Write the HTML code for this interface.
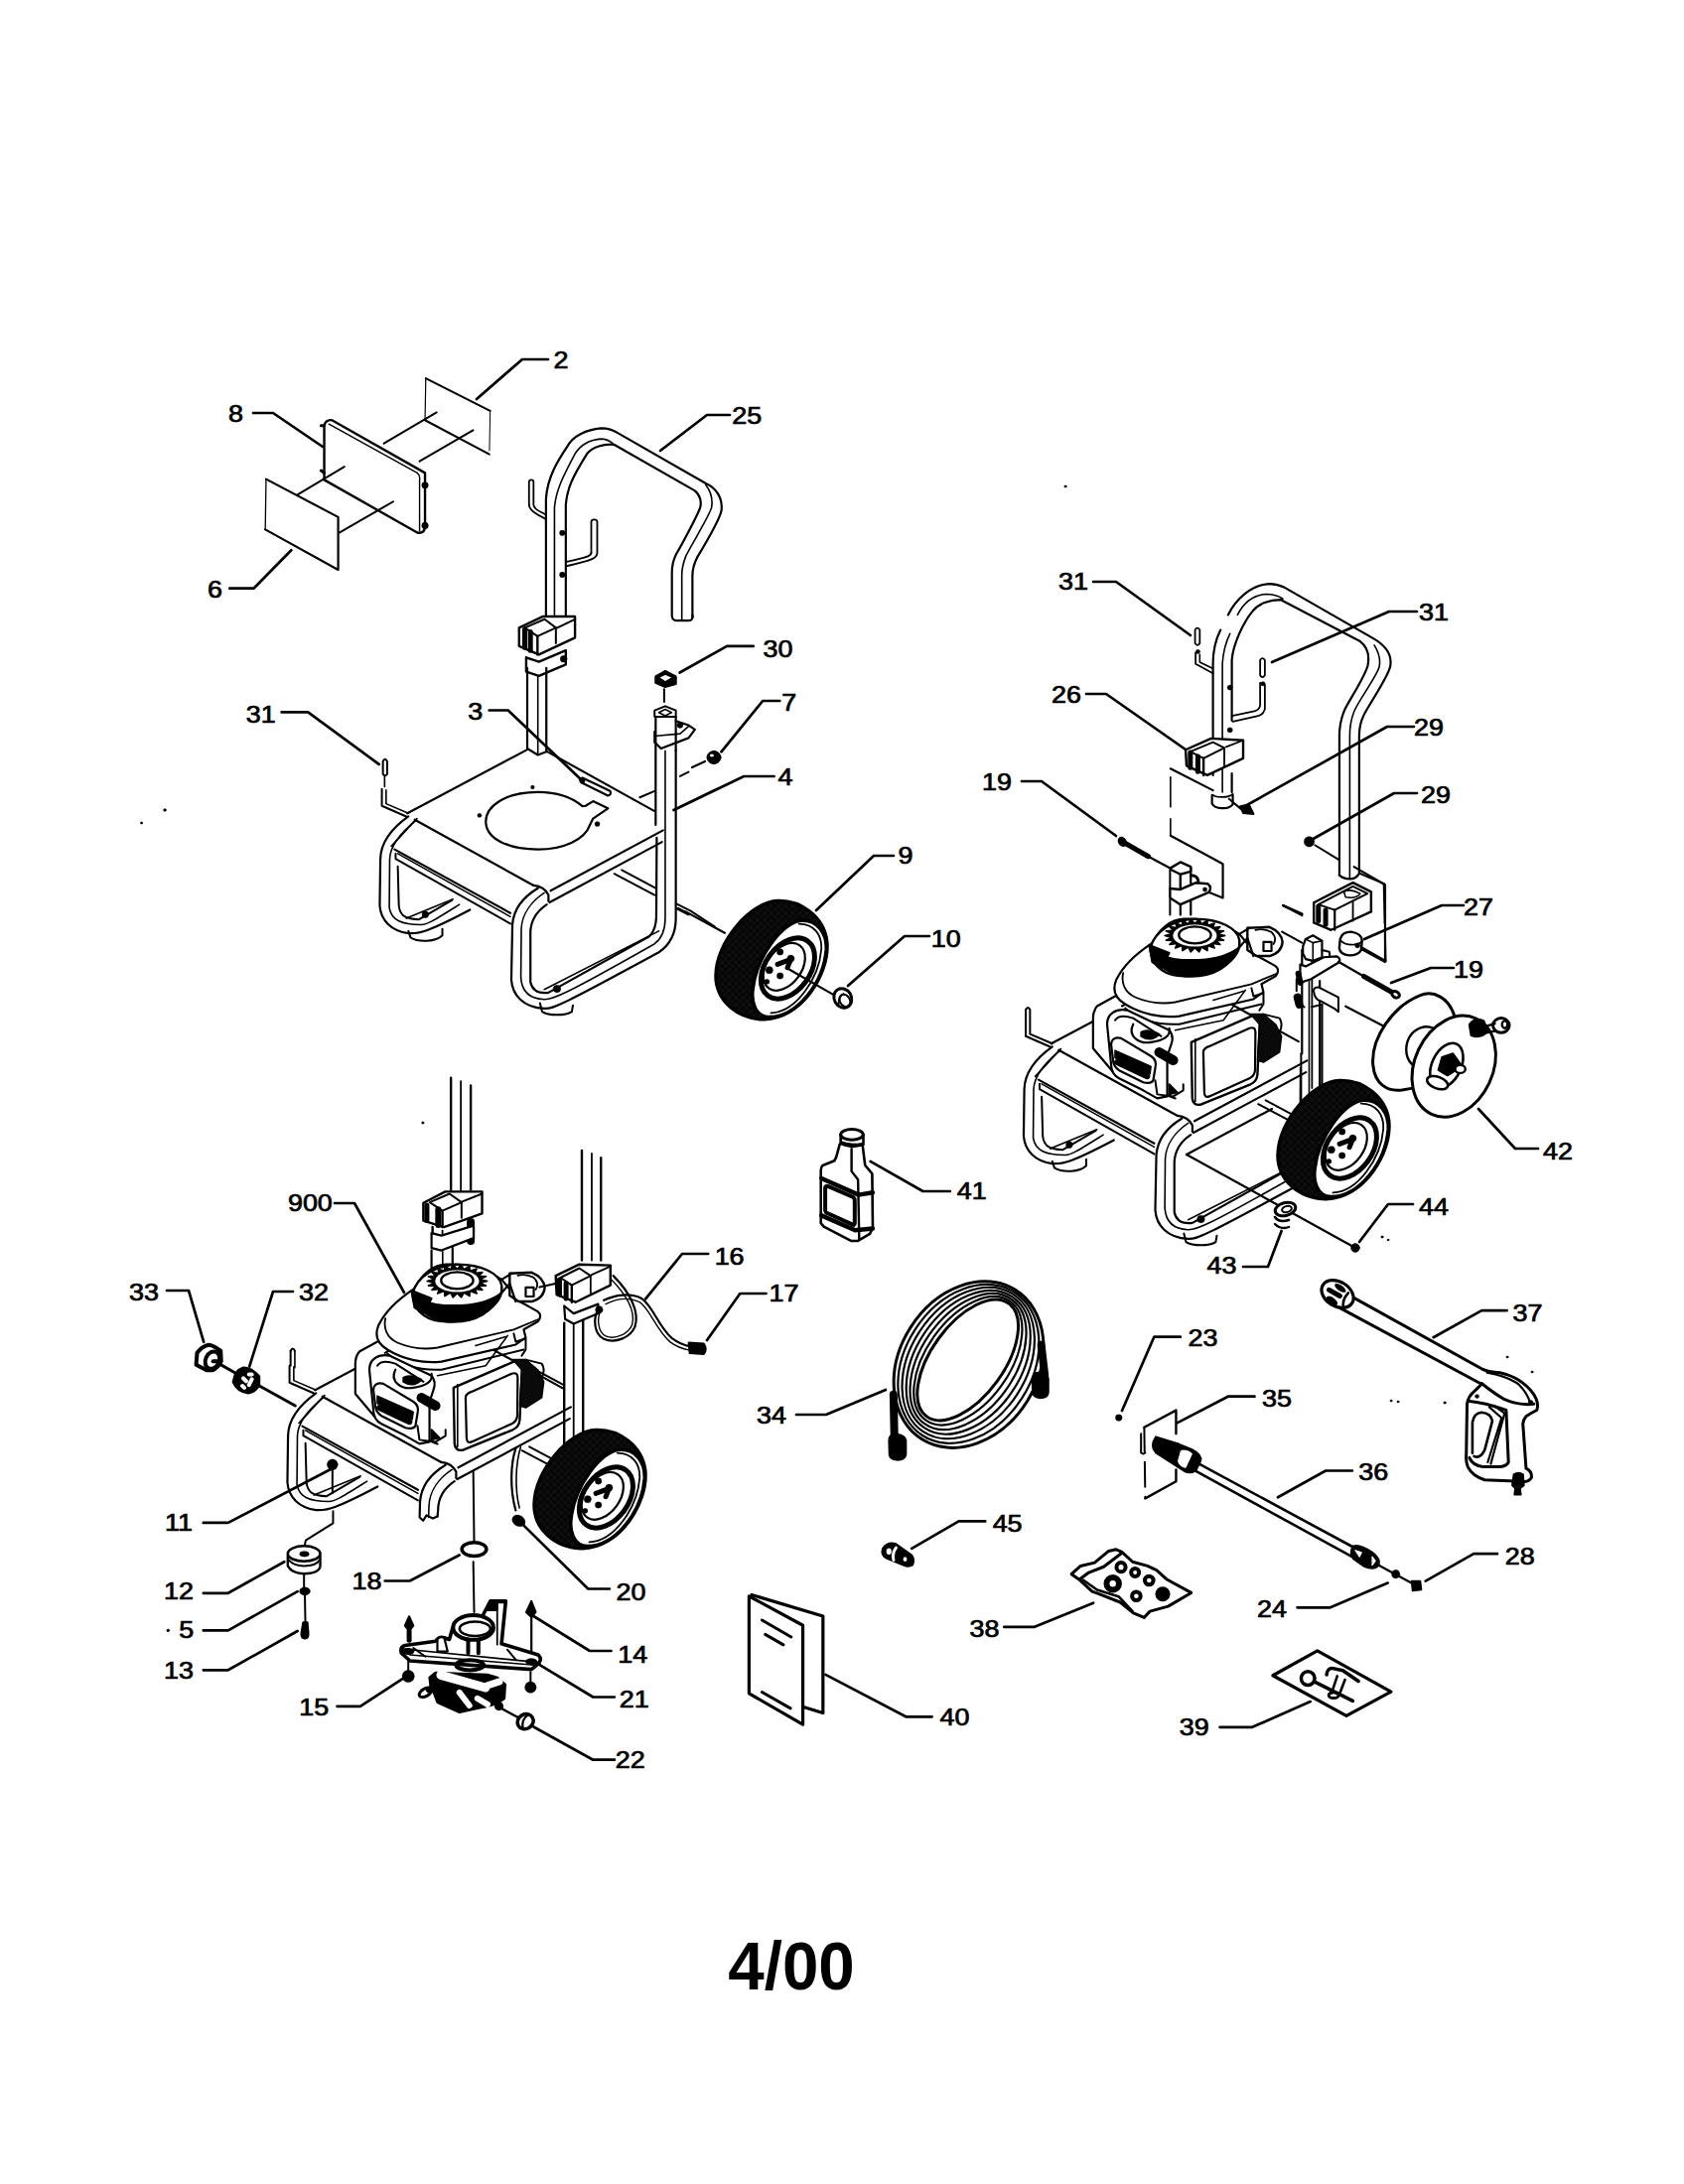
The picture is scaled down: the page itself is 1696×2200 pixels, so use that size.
<!DOCTYPE html>
<html><head><meta charset="utf-8"><style>
html,body{margin:0;padding:0;background:#fff;}
svg{display:block;}
text{font-family:"Liberation Sans",sans-serif;fill:#000;text-anchor:middle;stroke:#000;stroke-width:0.7px;}
path,circle,ellipse,rect,line,polyline,polygon{stroke:#000;stroke-linecap:round;stroke-linejoin:round;}
</style></head><body>
<svg width="1696" height="2200" viewBox="0 0 1696 2200">
<text transform="translate(565 371.2) scale(1.17 1)" x="0" y="0" font-size="23">2</text>
<text transform="translate(237.4 424.8) scale(1.17 1)" x="0" y="0" font-size="23">8</text>
<text transform="translate(216.5 601.7) scale(1.17 1)" x="0" y="0" font-size="23">6</text>
<text transform="translate(752.2 426.6) scale(1.17 1)" x="0" y="0" font-size="23">25</text>
<text transform="translate(783.4 661.8) scale(1.17 1)" x="0" y="0" font-size="23">30</text>
<text transform="translate(794.8 716.1) scale(1.17 1)" x="0" y="0" font-size="23">7</text>
<text transform="translate(791 791.2) scale(1.17 1)" x="0" y="0" font-size="23">4</text>
<text transform="translate(262.7 727.5) scale(1.17 1)" x="0" y="0" font-size="23">31</text>
<text transform="translate(478.6 724.9) scale(1.17 1)" x="0" y="0" font-size="23">3</text>
<text transform="translate(912 869.8) scale(1.17 1)" x="0" y="0" font-size="23">9</text>
<text transform="translate(952.7 953.8) scale(1.17 1)" x="0" y="0" font-size="23">10</text>
<text transform="translate(312.4 1220.4) scale(1.17 1)" x="0" y="0" font-size="23">900</text>
<text transform="translate(734.6 1273.6) scale(1.17 1)" x="0" y="0" font-size="23">16</text>
<text transform="translate(789.4 1310.5) scale(1.17 1)" x="0" y="0" font-size="23">17</text>
<text transform="translate(144.9 1309.5) scale(1.17 1)" x="0" y="0" font-size="23">33</text>
<text transform="translate(316 1310.2) scale(1.17 1)" x="0" y="0" font-size="23">32</text>
<text transform="translate(776.9 1434.2) scale(1.17 1)" x="0" y="0" font-size="23">34</text>
<text transform="translate(1081 594.2) scale(1.17 1)" x="0" y="0" font-size="23">31</text>
<text transform="translate(1444 625.2) scale(1.17 1)" x="0" y="0" font-size="23">31</text>
<text transform="translate(1074 708.2) scale(1.17 1)" x="0" y="0" font-size="23">26</text>
<text transform="translate(1439 741.2) scale(1.17 1)" x="0" y="0" font-size="23">29</text>
<text transform="translate(1004 796.2) scale(1.17 1)" x="0" y="0" font-size="23">19</text>
<text transform="translate(1446 809.2) scale(1.17 1)" x="0" y="0" font-size="23">29</text>
<text transform="translate(1489 922.2) scale(1.17 1)" x="0" y="0" font-size="23">27</text>
<text transform="translate(1479 985.2) scale(1.17 1)" x="0" y="0" font-size="23">19</text>
<text transform="translate(1569 1168.2) scale(1.17 1)" x="0" y="0" font-size="23">42</text>
<text transform="translate(978.7 1208.2) scale(1.17 1)" x="0" y="0" font-size="23">41</text>
<text transform="translate(1444 1223.8) scale(1.17 1)" x="0" y="0" font-size="23">44</text>
<text transform="translate(1230.5 1283.2) scale(1.17 1)" x="0" y="0" font-size="23">43</text>
<text transform="translate(1538.5 1330.7) scale(1.17 1)" x="0" y="0" font-size="23">37</text>
<text transform="translate(1211.4 1356.2) scale(1.17 1)" x="0" y="0" font-size="23">23</text>
<text transform="translate(1286 1417.2) scale(1.17 1)" x="0" y="0" font-size="23">35</text>
<text transform="translate(179.9 1542.1) scale(1.17 1)" x="0" y="0" font-size="23">11</text>
<text transform="translate(179.9 1611.3) scale(1.17 1)" x="0" y="0" font-size="23">12</text>
<text transform="translate(187.6 1649.6) scale(1.17 1)" x="0" y="0" font-size="23">5</text>
<text transform="translate(179.9 1690.5) scale(1.17 1)" x="0" y="0" font-size="23">13</text>
<text transform="translate(369.5 1601.3) scale(1.17 1)" x="0" y="0" font-size="23">18</text>
<text transform="translate(635.5 1612.0) scale(1.17 1)" x="0" y="0" font-size="23">20</text>
<text transform="translate(637.2 1674.5) scale(1.17 1)" x="0" y="0" font-size="23">14</text>
<text transform="translate(638.8 1720.4) scale(1.17 1)" x="0" y="0" font-size="23">21</text>
<text transform="translate(316.3 1727.7) scale(1.17 1)" x="0" y="0" font-size="23">15</text>
<text transform="translate(634.8 1780.9) scale(1.17 1)" x="0" y="0" font-size="23">22</text>
<text transform="translate(961.4 1737.7) scale(1.17 1)" x="0" y="0" font-size="23">40</text>
<text transform="translate(1383.2 1490.8) scale(1.17 1)" x="0" y="0" font-size="23">36</text>
<text transform="translate(1014.6 1543.1) scale(1.17 1)" x="0" y="0" font-size="23">45</text>
<text transform="translate(991.4 1648.7) scale(1.17 1)" x="0" y="0" font-size="23">38</text>
<text transform="translate(1530.7 1576.2) scale(1.17 1)" x="0" y="0" font-size="23">28</text>
<text transform="translate(1280.9 1628.5) scale(1.17 1)" x="0" y="0" font-size="23">24</text>
<text transform="translate(1202.8 1748.0) scale(1.17 1)" x="0" y="0" font-size="23">39</text>
<path d="M552.0 362.0 L526.0 362.0 L480.0 402.0" stroke-width="2.7" fill="none"/>
<path d="M255.0 416.0 L275.0 416.0 L325.0 450.0" stroke-width="2.7" fill="none"/>
<path d="M231.3 592.7 L255.5 592.7 L293.3 554.3" stroke-width="2.7" fill="none"/>
<path d="M735.0 418.0 L712.0 418.0 L665.0 454.0" stroke-width="2.7" fill="none"/>
<path d="M758.7 650.9 L732.1 650.9 L684.6 677.5" stroke-width="2.7" fill="none"/>
<path d="M785.3 706.0 L768.2 706.0 L726.4 757.3" stroke-width="2.7" fill="none"/>
<path d="M779.6 782.0 L749.2 782.0 L678.5 816.0" stroke-width="2.7" fill="none"/>
<path d="M283.6 717.4 L310.2 717.4 L381.7 769.9" stroke-width="2.7" fill="none"/>
<path d="M492.7 715.5 L511.7 715.5 L587.0 787.0" stroke-width="2.7" fill="none"/>
<path d="M900.0 862.0 L880.0 862.0 L822.0 917.0" stroke-width="2.7" fill="none"/>
<path d="M936.0 943.0 L911.0 943.0 L854.0 993.0" stroke-width="2.7" fill="none"/>
<path d="M1101.0 586.0 L1124.0 586.0 L1199.0 640.0" stroke-width="2.7" fill="none"/>
<path d="M1427.0 616.0 L1399.0 616.0 L1281.0 667.0" stroke-width="2.7" fill="none"/>
<path d="M1094.0 699.0 L1114.0 699.0 L1194.0 755.0" stroke-width="2.7" fill="none"/>
<path d="M1424.0 732.0 L1397.0 732.0 L1254.0 812.0" stroke-width="2.7" fill="none"/>
<path d="M1029.0 787.0 L1049.0 787.0 L1124.0 842.0" stroke-width="2.7" fill="none"/>
<path d="M1427.0 799.0 L1404.0 799.0 L1319.0 847.0" stroke-width="2.7" fill="none"/>
<path d="M1474.0 912.0 L1452.0 912.0 L1374.0 946.0" stroke-width="2.7" fill="none"/>
<path d="M1464.0 975.0 L1441.0 975.0 L1401.0 990.0" stroke-width="2.7" fill="none"/>
<path d="M1549.0 1157.0 L1526.0 1157.0 L1489.0 1117.0" stroke-width="2.7" fill="none"/>
<path d="M956.8 1200.0 L929.5 1200.0 L876.6 1169.8" stroke-width="2.7" fill="none"/>
<path d="M1423.0 1213.0 L1398.0 1213.0 L1369.0 1251.0" stroke-width="2.7" fill="none"/>
<path d="M1252.0 1276.0 L1277.0 1276.0 L1290.6 1240.0" stroke-width="2.7" fill="none"/>
<path d="M1517.7 1320.1 L1492.2 1320.1 L1443.6 1347.2" stroke-width="2.7" fill="none"/>
<path d="M1188.8 1346.7 L1162.4 1346.5 L1130.0 1421.0" stroke-width="2.7" fill="none"/>
<path d="M1263.5 1406.7 L1236.8 1406.7 L1185.5 1433.4" stroke-width="2.7" fill="none"/>
<path d="M337.0 1212.0 L357.0 1212.0 L407.0 1302.0" stroke-width="2.7" fill="none"/>
<path d="M713.2 1263.0 L687.0 1263.0 L650.2 1308.4" stroke-width="2.7" fill="none"/>
<path d="M771.5 1303.0 L745.3 1303.0 L712.0 1350.0" stroke-width="2.7" fill="none"/>
<path d="M168.0 1300.0 L190.0 1300.0 L205.2 1351.8" stroke-width="2.7" fill="none"/>
<path d="M295.0 1301.0 L275.0 1301.0 L251.2 1376.5" stroke-width="2.7" fill="none"/>
<path d="M802.0 1425.0 L832.0 1425.0 L892.0 1400.0" stroke-width="2.7" fill="none"/>
<path d="M204.8 1533.9 L229.8 1533.9 L335.0 1479.0" stroke-width="2.7" fill="none"/>
<path d="M204.8 1604.8 L229.8 1604.8 L286.3 1573.2" stroke-width="2.7" fill="none"/>
<path d="M204.8 1642.4 L229.8 1642.4 L299.6 1603.1" stroke-width="2.7" fill="none"/>
<path d="M204.8 1682.3 L229.8 1682.3 L299.6 1643.0" stroke-width="2.7" fill="none"/>
<path d="M387.7 1592.5 L412.7 1592.5 L462.6 1566.5" stroke-width="2.7" fill="none"/>
<path d="M613.9 1600.5 L592.3 1600.5 L522.4 1531.6" stroke-width="2.7" fill="none"/>
<path d="M615.5 1663.0 L593.9 1663.0 L537.4 1628.0" stroke-width="2.7" fill="none"/>
<path d="M618.9 1709.5 L597.3 1709.5 L542.4 1676.3" stroke-width="2.7" fill="none"/>
<path d="M339.5 1718.8 L362.8 1718.8 L412.7 1686.3" stroke-width="2.7" fill="none"/>
<path d="M618.9 1772.7 L597.3 1772.7 L537.4 1739.5" stroke-width="2.7" fill="none"/>
<path d="M938.6 1729.3 L912.4 1729.3 L831.4 1686.9" stroke-width="2.7" fill="none"/>
<path d="M1361.9 1481.5 L1335.1 1481.5 L1287.0 1508.3" stroke-width="2.7" fill="none"/>
<path d="M992.2 1532.4 L965.6 1532.4 L918.2 1559.9" stroke-width="2.7" fill="none"/>
<path d="M1011.3 1638.8 L1042.0 1638.8 L1101.1 1614.7" stroke-width="2.7" fill="none"/>
<path d="M1508.0 1565.2 L1484.2 1565.2 L1435.7 1592.7" stroke-width="2.7" fill="none"/>
<path d="M1306.5 1619.3 L1339.8 1619.3 L1397.7 1594.6" stroke-width="2.7" fill="none"/>
<path d="M1228.5 1739.8 L1261.2 1739.8 L1319.7 1714.1" stroke-width="2.7" fill="none"/>
<defs>
<pattern id="tread" x="0" y="0" width="7" height="7" patternUnits="userSpaceOnUse">
<rect width="7" height="7" fill="#000"/>
<rect x="1" y="2" width="1.3" height="1.3" fill="#fff"/>
<rect x="4.5" y="5" width="1.2" height="1.2" fill="#fff"/>
</pattern>
</defs>
<g transform="translate(250 360) scale(0.156177)">
<path d="M1145 135 L1560 345" stroke-width="2.0" fill="none" vector-effect="non-scaling-stroke" />
<path d="M1140 405 L1555 625" stroke-width="2.0" fill="none" vector-effect="non-scaling-stroke" />
<path d="M1145 135 L1140 405" stroke-width="1.2" fill="none" vector-effect="non-scaling-stroke" />
<path d="M1560 345 L1555 625" stroke-width="1.0" fill="none" vector-effect="non-scaling-stroke" stroke-dasharray="40 20"/>
<path d="M875 555 L1215 355" stroke-width="2.0" fill="none" vector-effect="non-scaling-stroke" />
<path d="M1105 670 L1450 470" stroke-width="2.0" fill="none" vector-effect="non-scaling-stroke" />
<path d="M490 790 L490 440 Q500 400 540 405 L1140 745 L1140 1100 Q1130 1140 1090 1130 L490 790" stroke-width="2.4" fill="none" vector-effect="non-scaling-stroke" />
<path d="M520 430 L1090 745 Q1110 760 1105 790 L1105 1120" stroke-width="1.4" fill="none" vector-effect="non-scaling-stroke" />
<path d="M470 440 L490 440" stroke-width="3" fill="none" vector-effect="non-scaling-stroke" />
<path d="M470 730 L490 745" stroke-width="3" fill="none" vector-effect="non-scaling-stroke" />
<circle cx="1140" cy="825" r="22" fill="#000" stroke="none"/>
<circle cx="1140" cy="1085" r="22" fill="#000" stroke="none"/>
<path d="M320 885 L620 705" stroke-width="2.0" fill="none" vector-effect="non-scaling-stroke" />
<path d="M590 1130 L935 930" stroke-width="2.0" fill="none" vector-effect="non-scaling-stroke" />
<path d="M115 785 L580 1030 L580 1370 L110 1110" stroke-width="2.2" fill="none" vector-effect="non-scaling-stroke" />
<path d="M115 785 L110 1110" stroke-width="1.3" fill="none" vector-effect="non-scaling-stroke" />
</g>
<g transform="translate(500 420) scale(0.142511)">
<path d="M350 1400 L350 580 C360 420 440 300 500 210 C540 130 640 90 740 80 C790 80 830 95 860 115 L1480 470 C1550 500 1600 570 1590 660 C1580 720 1450 940 1420 990 C1395 1040 1385 1090 1385 1120 L1385 1420" stroke-width="2.2" fill="none" vector-effect="non-scaling-stroke" />
<path d="M410 1440 L410 640 C420 520 470 420 555 260 C600 190 660 160 740 155 C770 155 800 170 820 185" stroke-width="1.6" fill="none" vector-effect="non-scaling-stroke" />
<path d="M1480 480 C1510 520 1530 580 1520 640 C1510 690 1380 900 1340 980 C1320 1030 1310 1070 1310 1120 L1310 1440" stroke-width="1.6" fill="none" vector-effect="non-scaling-stroke" />
<path d="M490 1400 L490 620 C500 500 540 420 640 260 C680 210 760 190 830 195 L1400 520 C1440 550 1450 600 1440 640 C1420 700 1300 920 1270 970 C1250 1010 1240 1060 1240 1100 L1240 1410 C1245 1440 1260 1440 1310 1440 L1360 1440 C1380 1440 1390 1420 1385 1400" stroke-width="2.2" fill="none" vector-effect="non-scaling-stroke" />
<path d="M230 620 L230 460 C232 440 262 440 262 460 L262 620 C262 650 300 665 350 690" stroke-width="1.8" fill="none" vector-effect="non-scaling-stroke" />
<path d="M230 620 C230 660 280 690 345 720" stroke-width="1.8" fill="none" vector-effect="non-scaling-stroke" />
<path d="M670 960 L670 740 C672 720 710 720 712 740 L712 960 C712 1000 680 1010 490 1055" stroke-width="1.8" fill="none" vector-effect="non-scaling-stroke" />
<path d="M670 960 C670 985 640 990 490 1025" stroke-width="1.8" fill="none" vector-effect="non-scaling-stroke" />
<circle cx="465" cy="820" r="20" fill="#000" stroke="none"/>
<circle cx="465" cy="1115" r="20" fill="#000" stroke="none"/>
<path d="M160 1490 L330 1410 L555 1410 L555 1560 L300 1680 L160 1620 Z" stroke-width="2.4" fill="#fff" vector-effect="non-scaling-stroke" />
<path d="M200 1490 L340 1430 L420 1490 L290 1550 Z" stroke-width="2.0" fill="none" vector-effect="non-scaling-stroke" />
<path d="M290 1550 L290 1680" stroke-width="2.4" fill="none" vector-effect="non-scaling-stroke" />
<path d="M420 1490 L420 1600" stroke-width="2.0" fill="none" vector-effect="non-scaling-stroke" />
<path d="M430 1490 L555 1430" stroke-width="2.0" fill="none" vector-effect="non-scaling-stroke" />
<path d="M200 1500 L200 1630" stroke-width="5" fill="none" vector-effect="non-scaling-stroke" />
<path d="M240 1520 L240 1650" stroke-width="5" fill="none" vector-effect="non-scaling-stroke" />
<path d="M210 1700 L210 1800 L300 1830 L490 1750 L490 1650 L300 1730 L210 1700" stroke-width="2.4" fill="none" vector-effect="non-scaling-stroke" />
<circle cx="475" cy="1710" r="25" fill="#000" stroke="none"/>
</g>
<g transform="translate(360 660) scale(0.213767)">
<path d="M800 445 L235 745" stroke-width="2.2" fill="none" vector-effect="non-scaling-stroke" />
<path d="M890 452 L1400 735" stroke-width="2.2" fill="none" vector-effect="non-scaling-stroke" />
<path d="M270 775 L830 1085" stroke-width="2.2" fill="none" vector-effect="non-scaling-stroke" />
<path d="M830 1085 Q880 1090 900 1130 L900 1160" stroke-width="2.2" fill="none" vector-effect="non-scaling-stroke" />
<path d="M910 1110 L1440 825" stroke-width="2.2" fill="none" vector-effect="non-scaling-stroke" />
<path d="M905 1165 L1435 880" stroke-width="2.2" fill="none" vector-effect="non-scaling-stroke" />
<path d="M175 915 L720 1215" stroke-width="2.2" fill="none" vector-effect="non-scaling-stroke" />
<path d="M190 935 L720 1232" stroke-width="1.6" fill="none" vector-effect="non-scaling-stroke" />
<path d="M180 935 L180 960 L720 1265" stroke-width="2.0" fill="none" vector-effect="non-scaling-stroke" />
<path d="M240 760 C170 810 110 880 108 960 L105 1180 C110 1250 160 1300 240 1310 C290 1315 340 1300 530 1200" stroke-width="2.2" fill="none" vector-effect="non-scaling-stroke" />
<path d="M275 780 C200 840 155 900 152 960 L150 1190 C160 1250 210 1270 300 1270 C330 1270 360 1250 480 1175" stroke-width="1.6" fill="none" vector-effect="non-scaling-stroke" />
<path d="M190 995 L195 1180 C200 1230 230 1245 290 1245 L445 1155" stroke-width="2.0" fill="none" vector-effect="non-scaling-stroke" />
<path d="M160 900 L265 785 L280 770" stroke-width="1.8" fill="none" vector-effect="non-scaling-stroke" />
<path d="M230 1240 L450 1150" stroke-width="1.6" fill="none" vector-effect="non-scaling-stroke" />
<path d="M240 1300 L250 1330 C290 1355 370 1350 400 1320 L400 1290" stroke-width="2.0" fill="none" vector-effect="non-scaling-stroke" />
<circle cx="320" cy="1222" r="16" fill="#000" stroke="none"/>
<path d="M850 1098 C780 1140 735 1200 730 1270 L725 1530 C730 1600 780 1660 880 1665 C920 1668 960 1650 1420 1400 C1480 1360 1500 1300 1500 1240 L1500 450" stroke-width="2.2" fill="none" vector-effect="non-scaling-stroke" />
<path d="M880 1120 C820 1160 775 1220 772 1290 L770 1520 C775 1590 820 1620 880 1622 C920 1622 960 1610 1400 1360 C1440 1330 1450 1290 1450 1240 L1450 450" stroke-width="1.6" fill="none" vector-effect="non-scaling-stroke" />
<path d="M892 1175 C840 1210 815 1260 815 1310 L815 1540 C825 1585 860 1595 900 1590 L1375 1325 C1400 1300 1408 1270 1408 1230 L1410 860" stroke-width="2.2" fill="none" vector-effect="non-scaling-stroke" />
<path d="M860 1640 L870 1680 C900 1700 980 1700 1010 1680 L1015 1650" stroke-width="2.0" fill="none" vector-effect="non-scaling-stroke" />
<circle cx="940" cy="1572" r="18" fill="#000" stroke="none"/>
<path d="M880 1575 L1420 1300" stroke-width="1.6" fill="none" vector-effect="non-scaling-stroke" />
<path d="M1210 1030 L1400 1130" stroke-width="2.0" fill="none" vector-effect="non-scaling-stroke" />
<path d="M1245 1012 L1405 1098" stroke-width="2.0" fill="none" vector-effect="non-scaling-stroke" />
<path d="M800 60 L800 440 L850 470 L890 455 L890 60" stroke-width="2.2" fill="none" vector-effect="non-scaling-stroke" />
<path d="M850 100 L850 470" stroke-width="1.6" fill="none" vector-effect="non-scaling-stroke" />
<path d="M1060 712 C1000 660 920 645 850 645 C700 645 600 710 605 790 C610 870 720 915 850 915 C970 915 1070 870 1095 800 L1110 770 L1180 722 L1110 688 L1075 710 Z" stroke-width="2.2" fill="none" vector-effect="non-scaling-stroke" />
<circle cx="825" cy="622" r="9" fill="#000" stroke="none"/>
<circle cx="575" cy="755" r="10" fill="#000" stroke="none"/>
<circle cx="1130" cy="795" r="12" fill="#000" stroke="none"/>
<path d="M1060 578 L1190 640 Q1200 655 1180 662 L1055 600 Q1040 585 1060 578 Z" stroke-width="2.2" fill="none" vector-effect="non-scaling-stroke" />
<circle cx="1060" cy="592" r="12" fill="#000" stroke="none"/>
<path d="M1405 800 L1405 290 L1500 290 L1500 450" stroke-width="2.2" fill="none" vector-effect="non-scaling-stroke" />
<path d="M1400 290 L1400 260 L1450 240 L1500 260 L1500 290" stroke-width="2.0" fill="none" vector-effect="non-scaling-stroke" />
<path d="M1420 270 L1450 255 L1480 270 L1450 285 Z" stroke-width="1.6" fill="none" vector-effect="non-scaling-stroke" />
<path d="M1400 360 L1400 410 L1430 440 L1560 390 L1590 350 L1560 330 L1500 310" stroke-width="2.2" fill="none" vector-effect="non-scaling-stroke" />
<path d="M1410 380 L1520 370 L1560 335" stroke-width="1.6" fill="none" vector-effect="non-scaling-stroke" />
<circle cx="1520" cy="330" r="14" fill="#000" stroke="none"/>
<path d="M1500 1170 L1570 1205 L1684 1280" stroke-width="2.0" fill="none" vector-effect="non-scaling-stroke" />
<path d="M1510 1195 L1560 1220" stroke-width="3" fill="none" vector-effect="non-scaling-stroke" />
<path d="M1330 670 L1400 640" stroke-width="2.0" fill="none" vector-effect="non-scaling-stroke" />
<path d="M1490 730 L1684 635" stroke-width="2.0" fill="none" vector-effect="non-scaling-stroke" />
<path d="M1520 570 L1560 550" stroke-width="2.0" fill="none" vector-effect="non-scaling-stroke" />
<path d="M120 500 Q130 480 140 500 L140 560 Q130 575 120 560 Z" stroke-width="2.0" fill="none" vector-effect="non-scaling-stroke" />
<path d="M128 570 L128 620" stroke-width="1.6" fill="none" vector-effect="non-scaling-stroke" />
<path d="M115 630 L115 710 L230 760" stroke-width="2.0" fill="none" vector-effect="non-scaling-stroke" />
<path d="M135 635 L135 700 L240 745" stroke-width="1.6" fill="none" vector-effect="non-scaling-stroke" />
<path d="M1405 100 L1450 75 L1500 100 L1500 135 L1450 150 L1405 130 Z" stroke-width="2.2" fill="#000" vector-effect="non-scaling-stroke" />
<path d="M1420 105 L1450 90 L1485 105 L1450 125 Z" stroke-width="1.2" fill="#fff" vector-effect="non-scaling-stroke" stroke="#fff"/>
<path d="M1445 160 L1445 220" stroke-width="2.0" fill="none" vector-effect="non-scaling-stroke" />
</g>
<g transform="translate(690 840) scale(0.166279)">
<path d="M560 405 C700 400 840 500 860 650 C880 850 700 1120 480 1125 C300 1120 185 1000 185 860 C185 650 400 410 560 405 Z" fill="url(#tread)" stroke="#000" stroke-width="3" vector-effect="non-scaling-stroke"/>
<path d="M705 525 C800 520 860 600 855 700 C840 900 680 1110 510 1110 C420 1110 400 1010 410 940 C430 750 590 530 705 525 Z" fill="#fff" stroke="#000" stroke-width="3.5" vector-effect="non-scaling-stroke"/>
<path d="M690 545 C780 545 830 610 825 700 C810 880 670 1080 520 1085" fill="none" stroke="#000" stroke-width="1.8" vector-effect="non-scaling-stroke"/>
<ellipse cx="622" cy="815" rx="205" ry="135" transform="rotate(-54 622 815)" fill="none" stroke="#000" stroke-width="5" vector-effect="non-scaling-stroke"/>
<ellipse cx="600" cy="805" rx="160" ry="105" transform="rotate(-54 600 805)" fill="none" stroke="#000" stroke-width="2.2" vector-effect="non-scaling-stroke"/>
<circle cx="575" cy="715" r="20" fill="#000" stroke="none"/>
<circle cx="640" cy="755" r="22" fill="#000" stroke="none"/>
<circle cx="510" cy="825" r="22" fill="#000" stroke="none"/>
<circle cx="575" cy="860" r="20" fill="#000" stroke="none"/>
<circle cx="495" cy="895" r="16" fill="#000" stroke="none"/>
<path d="M560 790 L640 760 L620 810" stroke-width="5" fill="none" vector-effect="non-scaling-stroke" />
<path d="M0 470 L240 600" stroke-width="2.2" fill="none" vector-effect="non-scaling-stroke" />
<path d="M620 815 L900 975" stroke-width="2.2" fill="none" vector-effect="non-scaling-stroke" />
<ellipse cx="955" cy="995" rx="52" ry="60" transform="rotate(-30 955 995)" fill="#fff" stroke="#000" stroke-width="3" vector-effect="non-scaling-stroke"/>
<ellipse cx="968" cy="1010" rx="30" ry="40" transform="rotate(-30 968 1010)" fill="none" stroke="#000" stroke-width="2" vector-effect="non-scaling-stroke"/>
<path d="M930 1030 Q930 980 960 970" stroke-width="2" fill="none" vector-effect="non-scaling-stroke" />
</g>
<g transform="translate(1008.5 892) scale(0.213767)">
<path d="M800 445 L235 745" stroke-width="2.2" fill="none" vector-effect="non-scaling-stroke" />
<path d="M890 452 L1400 735" stroke-width="2.2" fill="none" vector-effect="non-scaling-stroke" />
<path d="M270 775 L830 1085" stroke-width="2.2" fill="none" vector-effect="non-scaling-stroke" />
<path d="M830 1085 Q880 1090 900 1130 L900 1160" stroke-width="2.2" fill="none" vector-effect="non-scaling-stroke" />
<path d="M910 1110 L1440 825" stroke-width="2.2" fill="none" vector-effect="non-scaling-stroke" />
<path d="M905 1165 L1435 880" stroke-width="2.2" fill="none" vector-effect="non-scaling-stroke" />
<path d="M175 915 L720 1215" stroke-width="2.2" fill="none" vector-effect="non-scaling-stroke" />
<path d="M190 935 L720 1232" stroke-width="1.6" fill="none" vector-effect="non-scaling-stroke" />
<path d="M180 935 L180 960 L720 1265" stroke-width="2.0" fill="none" vector-effect="non-scaling-stroke" />
<path d="M240 760 C170 810 110 880 108 960 L105 1180 C110 1250 160 1300 240 1310 C290 1315 340 1300 530 1200" stroke-width="2.2" fill="none" vector-effect="non-scaling-stroke" />
<path d="M275 780 C200 840 155 900 152 960 L150 1190 C160 1250 210 1270 300 1270 C330 1270 360 1250 480 1175" stroke-width="1.6" fill="none" vector-effect="non-scaling-stroke" />
<path d="M190 995 L195 1180 C200 1230 230 1245 290 1245 L445 1155" stroke-width="2.0" fill="none" vector-effect="non-scaling-stroke" />
<path d="M160 900 L265 785 L280 770" stroke-width="1.8" fill="none" vector-effect="non-scaling-stroke" />
<path d="M230 1240 L450 1150" stroke-width="1.6" fill="none" vector-effect="non-scaling-stroke" />
<path d="M240 1300 L250 1330 C290 1355 370 1350 400 1320 L400 1290" stroke-width="2.0" fill="none" vector-effect="non-scaling-stroke" />
<circle cx="320" cy="1222" r="16" fill="#000" stroke="none"/>
<path d="M850 1098 C780 1140 735 1200 730 1270 L725 1530 C730 1600 780 1660 880 1665 C920 1668 960 1650 1420 1400 C1480 1360 1500 1300 1500 1240 L1500 450" stroke-width="2.2" fill="none" vector-effect="non-scaling-stroke" />
<path d="M880 1120 C820 1160 775 1220 772 1290 L770 1520 C775 1590 820 1620 880 1622 C920 1622 960 1610 1400 1360 C1440 1330 1450 1290 1450 1240 L1450 450" stroke-width="1.6" fill="none" vector-effect="non-scaling-stroke" />
<path d="M892 1175 C840 1210 815 1260 815 1310 L815 1540 C825 1585 860 1595 900 1590 L1375 1325 C1400 1300 1408 1270 1408 1230 L1410 860" stroke-width="2.2" fill="none" vector-effect="non-scaling-stroke" />
<path d="M860 1640 L870 1680 C900 1700 980 1700 1010 1680 L1015 1650" stroke-width="2.0" fill="none" vector-effect="non-scaling-stroke" />
<circle cx="940" cy="1572" r="18" fill="#000" stroke="none"/>
<path d="M880 1575 L1420 1300" stroke-width="1.6" fill="none" vector-effect="non-scaling-stroke" />
<path d="M1210 1030 L1400 1130" stroke-width="2.0" fill="none" vector-effect="non-scaling-stroke" />
<path d="M1245 1012 L1405 1098" stroke-width="2.0" fill="none" vector-effect="non-scaling-stroke" />
<path d="M115 710 L115 585 Q125 565 135 585 L135 700 L240 745" stroke-width="2.0" fill="none" vector-effect="non-scaling-stroke" />
<path d="M115 710 L230 760" stroke-width="2.0" fill="none" vector-effect="non-scaling-stroke" />
</g>
<g transform="translate(267 1241) scale(0.213767)">
<path d="M800 445 L235 745" stroke-width="2.2" fill="none" vector-effect="non-scaling-stroke" />
<path d="M890 452 L1400 735" stroke-width="2.2" fill="none" vector-effect="non-scaling-stroke" />
<path d="M270 775 L830 1085" stroke-width="2.2" fill="none" vector-effect="non-scaling-stroke" />
<path d="M830 1085 Q880 1090 900 1130 L900 1160" stroke-width="2.2" fill="none" vector-effect="non-scaling-stroke" />
<path d="M910 1110 L1440 825" stroke-width="2.2" fill="none" vector-effect="non-scaling-stroke" />
<path d="M905 1165 L1435 880" stroke-width="2.2" fill="none" vector-effect="non-scaling-stroke" />
<path d="M175 915 L720 1215" stroke-width="2.2" fill="none" vector-effect="non-scaling-stroke" />
<path d="M190 935 L720 1232" stroke-width="1.6" fill="none" vector-effect="non-scaling-stroke" />
<path d="M180 935 L180 960 L720 1265" stroke-width="2.0" fill="none" vector-effect="non-scaling-stroke" />
<path d="M240 760 C170 810 110 880 108 960 L105 1180 C110 1250 160 1300 240 1310 C290 1315 340 1300 530 1200" stroke-width="2.2" fill="none" vector-effect="non-scaling-stroke" />
<path d="M275 780 C200 840 155 900 152 960 L150 1190 C160 1250 210 1270 300 1270 C330 1270 360 1250 480 1175" stroke-width="1.6" fill="none" vector-effect="non-scaling-stroke" />
<path d="M190 995 L195 1180 C200 1230 230 1245 290 1245 L445 1155" stroke-width="2.0" fill="none" vector-effect="non-scaling-stroke" />
<path d="M160 900 L265 785 L280 770" stroke-width="1.8" fill="none" vector-effect="non-scaling-stroke" />
<path d="M230 1240 L450 1150" stroke-width="1.6" fill="none" vector-effect="non-scaling-stroke" />
<path d="M850 1098 C780 1140 735 1200 730 1270 L728 1345 L745 1360 L760 1335 L790 1350 L812 1340" stroke-width="2.2" fill="none" vector-effect="non-scaling-stroke" />
<path d="M880 1120 C820 1160 775 1220 772 1290 L770 1345" stroke-width="1.6" fill="none" vector-effect="non-scaling-stroke" />
<path d="M892 1175 C840 1210 815 1260 815 1310 L812 1340" stroke-width="2.2" fill="none" vector-effect="non-scaling-stroke" />
<path d="M1210 1030 L1400 1130" stroke-width="2.0" fill="none" vector-effect="non-scaling-stroke" />
<path d="M1245 1012 L1405 1098" stroke-width="2.0" fill="none" vector-effect="non-scaling-stroke" />
<path d="M115 630 L115 710 L230 760" stroke-width="2.0" fill="none" vector-effect="non-scaling-stroke" />
<path d="M135 635 L135 700 L240 745" stroke-width="1.6" fill="none" vector-effect="non-scaling-stroke" />
<path d="M120 560 L120 630" stroke-width="2.0" fill="none" vector-effect="non-scaling-stroke" />
<path d="M140 560 L140 640" stroke-width="1.6" fill="none" vector-effect="non-scaling-stroke" />
<path d="M120 560 Q130 540 140 560" stroke-width="2.0" fill="none" vector-effect="non-scaling-stroke" />
</g>
<g transform="translate(1090 800) scale(0.190024)">
<path d="M210 250 L350 330" stroke-width="5" fill="none" vector-effect="non-scaling-stroke" />
<path d="M350 330 L470 395" stroke-width="2.2" fill="none" vector-effect="non-scaling-stroke" />
<ellipse cx="212" cy="252" rx="22" ry="28" transform="rotate(-30 212 252)" fill="#000"/>
<path d="M465 400 L465 640" stroke-width="2.0" fill="none" vector-effect="non-scaling-stroke" stroke-dasharray="20 10"/>
<path d="M520 420 L520 640" stroke-width="2.2" fill="none" vector-effect="non-scaling-stroke" />
<path d="M575 390 L575 640" stroke-width="2.2" fill="none" vector-effect="non-scaling-stroke" />
<path d="M470 390 L520 360 L575 385 L575 410 L520 425 L470 400 Z" stroke-width="2.4" fill="#fff" vector-effect="non-scaling-stroke" />
<path d="M520 425 L520 500" stroke-width="2.0" fill="none" vector-effect="non-scaling-stroke" />
<path d="M575 430 Q610 430 615 460" stroke-width="3" fill="none" vector-effect="non-scaling-stroke" />
<path d="M465 500 L465 550 L520 585 L670 520 Q690 495 665 475 L600 470 L520 505 Z" stroke-width="2.4" fill="#fff" vector-effect="non-scaling-stroke" />
<circle cx="650" cy="505" r="12" fill="#000" stroke="none"/>
<path d="M745 370 L745 550 L670 520" stroke-width="2.2" fill="none" vector-effect="non-scaling-stroke" />
<path d="M1440 385 L1605 480 L1605 890 L1460 810" stroke-width="2.2" fill="none" vector-effect="non-scaling-stroke" />
<path d="M1065 590 L1165 635" stroke-width="2.6" fill="none" vector-effect="non-scaling-stroke" />
</g>
<g transform="translate(1100 570) scale(0.190024)">
<path d="M640 1110 L640 520 C640 460 650 400 680 340" stroke-width="2.2" fill="none" vector-effect="non-scaling-stroke" />
<path d="M720 260 C760 180 840 100 940 95 C970 95 1000 105 1020 115 L1490 385 C1550 420 1590 470 1580 530 C1575 580 1470 730 1440 790 C1420 830 1415 860 1415 900 L1415 1630 Q1400 1660 1365 1660 Q1330 1660 1310 1640" stroke-width="2.2" fill="none" vector-effect="non-scaling-stroke" />
<path d="M690 1200 L690 520 C695 440 710 400 730 360" stroke-width="1.6" fill="none" vector-effect="non-scaling-stroke" />
<path d="M770 260 C800 200 850 155 920 150 C960 150 990 160 1010 175" stroke-width="1.6" fill="none" vector-effect="non-scaling-stroke" />
<path d="M1495 420 C1520 460 1530 500 1520 540 C1500 600 1400 730 1385 780 C1370 820 1365 850 1365 900 L1365 1655" stroke-width="1.6" fill="none" vector-effect="non-scaling-stroke" />
<path d="M740 820 L740 500 C745 420 800 300 850 240 C880 200 940 180 1000 180 L1420 400 C1460 430 1470 480 1460 530 C1440 600 1350 730 1335 770 C1315 820 1310 850 1310 900 L1310 1640" stroke-width="2.2" fill="none" vector-effect="non-scaling-stroke" />
<path d="M740 1100 L740 1200" stroke-width="2.2" fill="none" vector-effect="non-scaling-stroke" />
<path d="M545 340 Q557 320 570 340 L570 410 Q557 430 545 410 Z" stroke-width="1.8" fill="none" vector-effect="non-scaling-stroke" />
<path d="M548 460 L548 520 L640 570" stroke-width="1.8" fill="none" vector-effect="non-scaling-stroke" />
<path d="M570 470 L570 510 L640 545" stroke-width="1.6" fill="none" vector-effect="non-scaling-stroke" />
<path d="M890 500 Q902 480 915 500 L915 580 Q902 600 890 580 Z" stroke-width="1.8" fill="none" vector-effect="non-scaling-stroke" />
<path d="M890 620 L890 740 Q885 765 860 770 L740 795" stroke-width="1.8" fill="none" vector-effect="non-scaling-stroke" />
<path d="M915 630 L915 760 Q905 790 880 795 L745 825" stroke-width="1.8" fill="none" vector-effect="non-scaling-stroke" />
<circle cx="730" cy="645" r="14" fill="#000" stroke="none"/>
<circle cx="730" cy="870" r="14" fill="#000" stroke="none"/>
<circle cx="560" cy="455" r="12" fill="#000" stroke="none"/>
<circle cx="905" cy="625" r="12" fill="#000" stroke="none"/>
<path d="M495 975 L630 915 L800 925 L800 1020 L610 1110 L500 1060 Z" stroke-width="2.4" fill="#fff" vector-effect="non-scaling-stroke" />
<path d="M520 985 L640 935 L700 965 L590 1020 Z" stroke-width="2.0" fill="none" vector-effect="non-scaling-stroke" />
<path d="M590 1020 L590 1110" stroke-width="2.4" fill="none" vector-effect="non-scaling-stroke" />
<path d="M700 965 L700 1060" stroke-width="1.8" fill="none" vector-effect="non-scaling-stroke" />
<path d="M710 960 L800 925" stroke-width="1.8" fill="none" vector-effect="non-scaling-stroke" />
<path d="M520 990 L520 1070" stroke-width="5" fill="none" vector-effect="non-scaling-stroke" />
<path d="M560 1010 L560 1090" stroke-width="5" fill="none" vector-effect="non-scaling-stroke" />
<path d="M635 1215 L635 1260 C650 1290 720 1295 745 1265 L745 1215" stroke-width="2.2" fill="none" vector-effect="non-scaling-stroke" />
<path d="M640 1215 C660 1230 720 1230 745 1210" stroke-width="1.8" fill="none" vector-effect="non-scaling-stroke" />
<path d="M415 1075 L640 1190" stroke-width="2.2" fill="none" vector-effect="non-scaling-stroke" />
<path d="M415 1120 L415 1430" stroke-width="1.6" fill="none" vector-effect="non-scaling-stroke" stroke-dasharray="30 12"/>
<path d="M415 1430 L690 1579" stroke-width="2.2" fill="none" vector-effect="non-scaling-stroke" />
<path d="M785 1275 L830 1265 L855 1315 L800 1310 Z" stroke-width="2" fill="#000" vector-effect="non-scaling-stroke" />
<circle cx="1150" cy="1462" r="28" fill="#000"/>
<path d="M1180 1480 L1310 1560" stroke-width="2.0" fill="none" vector-effect="non-scaling-stroke" />
<path d="M725 1235 L790 1290" stroke-width="2.0" fill="none" vector-effect="non-scaling-stroke" />
</g>
<g transform="translate(1010 850) scale(0.201898)">
<path d="M560 760 L470 810 Q450 835 450 870 L450 1020 L560 1150 L860 1270" stroke-width="2.2" fill="#fff" vector-effect="non-scaling-stroke" />
<path d="M745 495 C650 560 600 610 565 680 C545 730 560 770 610 800 C690 850 790 870 880 860 L1250 775 L1300 740 L1290 700 L1360 660 Q1385 630 1360 610 L1270 560 L1180 450 C1100 400 1000 370 900 375 C830 380 780 430 745 495 Z" stroke-width="2.2" fill="#fff" vector-effect="non-scaling-stroke" />
<path d="M600 645 C590 690 605 740 660 765 C730 795 800 800 860 790 L1240 700 L1360 650" stroke-width="1.8" fill="none" vector-effect="non-scaling-stroke" />
<path d="M735 520 C760 430 860 375 960 375 C1080 375 1170 420 1180 480 C1190 560 1100 650 920 660 C820 665 740 620 735 520 Z" stroke-width="2.4" fill="#fff" vector-effect="non-scaling-stroke" />
<path d="M745 560 C790 635 870 662 940 662 C1050 662 1140 612 1175 520 C1120 560 1040 580 940 580 C870 580 820 570 790 555 Z" stroke-width="2" fill="#000" vector-effect="non-scaling-stroke" />
<path d="M730 505 L830 545 L790 620 L745 590 Z" stroke-width="2" fill="#000" vector-effect="non-scaling-stroke" />
<path d="M1108 458 L1073 467 L1102 481 L1064 483 L1084 502 L1046 497 L1056 520 L1021 508 L1020 533 L991 516 L979 539 L958 518 L937 539 L925 516 L896 533 L895 508 L860 520 L870 497 L832 502 L852 483 L814 481 L843 467 L808 458 L843 449 L814 435 L852 433 L832 414 L870 419 L860 396 L895 408 L896 383 L925 400 L937 377 L958 398 L979 377 L991 400 L1020 383 L1021 408 L1056 396 L1046 419 L1084 414 L1064 433 L1102 435 L1073 449Z" stroke-width="1.6" fill="#000" vector-effect="non-scaling-stroke" />
<ellipse cx="958" cy="458" rx="110" ry="55" fill="#fff" stroke="none"/>
<ellipse cx="958" cy="455" rx="80" ry="42" fill="#fff" stroke="#000" stroke-width="2.4" vector-effect="non-scaling-stroke"/>
<path d="M1220 420 L1330 415 Q1390 440 1395 490 Q1390 545 1330 560 L1265 560 L1220 530 Z" stroke-width="2.4" fill="#fff" vector-effect="non-scaling-stroke" />
<path d="M1260 430 Q1300 420 1340 440 Q1370 470 1350 500" stroke-width="1.8" fill="none" vector-effect="non-scaling-stroke" />
<path d="M1300 490 L1340 490 L1340 535 L1300 535 Z" stroke-width="2.2" fill="none" vector-effect="non-scaling-stroke" />
<path d="M1180 450 L1230 420" stroke-width="2.2" fill="none" vector-effect="non-scaling-stroke" />
<path d="M1160 540 L1220 470 L1250 560" stroke-width="2.2" fill="none" vector-effect="non-scaling-stroke" />
<path d="M610 820 C680 880 780 905 880 900 L1290 800" stroke-width="2.0" fill="none" vector-effect="non-scaling-stroke" />
<path d="M860 930 L1100 880 L1210 730" stroke-width="1.6" fill="none" vector-effect="non-scaling-stroke" />
<path d="M1050 780 L1200 735" stroke-width="1.6" fill="none" vector-effect="non-scaling-stroke" />
<path d="M1240 720 L1250 760 L1300 745 L1300 800 L1280 830" stroke-width="2.0" fill="none" vector-effect="non-scaling-stroke" />
<path d="M520 900 C520 850 560 820 620 830 L830 930 Q855 960 840 1000 L820 1060 L820 1260 L770 1270 L700 1230 L580 1170 Q540 1150 540 1100 Z" stroke-width="2.2" fill="#fff" vector-effect="non-scaling-stroke" />
<path d="M560 880 C580 850 620 860 650 870 L790 960" stroke-width="2.0" fill="none" vector-effect="non-scaling-stroke" />
<path d="M540 1000 Q545 960 590 970 L740 1060 Q770 1080 760 1120 L750 1180 Q740 1200 700 1190 L580 1130 Q550 1110 550 1080 Z" stroke-width="2.2" fill="#fff" vector-effect="non-scaling-stroke" />
<path d="M560 1030 L740 1110 L735 1150 L560 1070 Z" stroke-width="1" fill="#000" vector-effect="non-scaling-stroke" />
<path d="M570 1090 L720 1160" stroke-width="6" fill="none" vector-effect="non-scaling-stroke" />
<path d="M650 900 C620 960 680 1000 740 990 C800 980 840 960 830 920" stroke-width="2.2" fill="none" vector-effect="non-scaling-stroke" />
<path d="M690 940 Q720 920 780 950 Q740 990 690 960 Z" stroke-width="2" fill="#000" vector-effect="non-scaling-stroke" />
<path d="M780 1040 L850 1080" stroke-width="10" fill="none" vector-effect="non-scaling-stroke" />
<path d="M940 990 L1240 860 Q1285 845 1282 900 L1270 1150 Q1268 1185 1235 1200 L990 1300 Q950 1310 945 1270 Z" stroke-width="2.4" fill="#fff" vector-effect="non-scaling-stroke" />
<path d="M1000 1040 Q1000 1020 1030 1010 L1230 920 Q1260 910 1260 940 L1258 1130 Q1255 1160 1230 1170 L1030 1260 Q1005 1270 1005 1240 Z" stroke-width="2.2" fill="none" vector-effect="non-scaling-stroke" />
<path d="M960 975 L960 1285" stroke-width="1.6" fill="none" vector-effect="non-scaling-stroke" />
<path d="M1235 850 L1300 850 L1360 900 L1390 960 L1380 1040 L1300 1090 L1270 1080 L1280 900 Z" stroke-width="1.5" fill="url(#tread)" vector-effect="non-scaling-stroke" />
<path d="M1300 850 L1380 870 Q1400 900 1380 940" stroke-width="2" fill="none" vector-effect="non-scaling-stroke" />
<path d="M760 1180 L770 1250 L850 1260 L900 1230 L900 1200" stroke-width="2.0" fill="none" vector-effect="non-scaling-stroke" />
<path d="M830 1200 L870 1240 L830 1250 Z" stroke-width="2" fill="#000" vector-effect="non-scaling-stroke" />
</g>
<g transform="translate(267 1198) scale(0.201898)">
<path d="M560 760 L470 810 Q450 835 450 870 L450 1020 L560 1150 L860 1270" stroke-width="2.2" fill="#fff" vector-effect="non-scaling-stroke" />
<path d="M745 495 C650 560 600 610 565 680 C545 730 560 770 610 800 C690 850 790 870 880 860 L1250 775 L1300 740 L1290 700 L1360 660 Q1385 630 1360 610 L1270 560 L1180 450 C1100 400 1000 370 900 375 C830 380 780 430 745 495 Z" stroke-width="2.2" fill="#fff" vector-effect="non-scaling-stroke" />
<path d="M600 645 C590 690 605 740 660 765 C730 795 800 800 860 790 L1240 700 L1360 650" stroke-width="1.8" fill="none" vector-effect="non-scaling-stroke" />
<path d="M735 520 C760 430 860 375 960 375 C1080 375 1170 420 1180 480 C1190 560 1100 650 920 660 C820 665 740 620 735 520 Z" stroke-width="2.4" fill="#fff" vector-effect="non-scaling-stroke" />
<path d="M745 560 C790 635 870 662 940 662 C1050 662 1140 612 1175 520 C1120 560 1040 580 940 580 C870 580 820 570 790 555 Z" stroke-width="2" fill="#000" vector-effect="non-scaling-stroke" />
<path d="M730 505 L830 545 L790 620 L745 590 Z" stroke-width="2" fill="#000" vector-effect="non-scaling-stroke" />
<path d="M1108 458 L1073 467 L1102 481 L1064 483 L1084 502 L1046 497 L1056 520 L1021 508 L1020 533 L991 516 L979 539 L958 518 L937 539 L925 516 L896 533 L895 508 L860 520 L870 497 L832 502 L852 483 L814 481 L843 467 L808 458 L843 449 L814 435 L852 433 L832 414 L870 419 L860 396 L895 408 L896 383 L925 400 L937 377 L958 398 L979 377 L991 400 L1020 383 L1021 408 L1056 396 L1046 419 L1084 414 L1064 433 L1102 435 L1073 449Z" stroke-width="1.6" fill="#000" vector-effect="non-scaling-stroke" />
<ellipse cx="958" cy="458" rx="110" ry="55" fill="#fff" stroke="none"/>
<ellipse cx="958" cy="455" rx="80" ry="42" fill="#fff" stroke="#000" stroke-width="2.4" vector-effect="non-scaling-stroke"/>
<path d="M1220 420 L1330 415 Q1390 440 1395 490 Q1390 545 1330 560 L1265 560 L1220 530 Z" stroke-width="2.4" fill="#fff" vector-effect="non-scaling-stroke" />
<path d="M1260 430 Q1300 420 1340 440 Q1370 470 1350 500" stroke-width="1.8" fill="none" vector-effect="non-scaling-stroke" />
<path d="M1300 490 L1340 490 L1340 535 L1300 535 Z" stroke-width="2.2" fill="none" vector-effect="non-scaling-stroke" />
<path d="M1180 450 L1230 420" stroke-width="2.2" fill="none" vector-effect="non-scaling-stroke" />
<path d="M1160 540 L1220 470 L1250 560" stroke-width="2.2" fill="none" vector-effect="non-scaling-stroke" />
<path d="M610 820 C680 880 780 905 880 900 L1290 800" stroke-width="2.0" fill="none" vector-effect="non-scaling-stroke" />
<path d="M860 930 L1100 880 L1210 730" stroke-width="1.6" fill="none" vector-effect="non-scaling-stroke" />
<path d="M1050 780 L1200 735" stroke-width="1.6" fill="none" vector-effect="non-scaling-stroke" />
<path d="M1240 720 L1250 760 L1300 745 L1300 800 L1280 830" stroke-width="2.0" fill="none" vector-effect="non-scaling-stroke" />
<path d="M520 900 C520 850 560 820 620 830 L830 930 Q855 960 840 1000 L820 1060 L820 1260 L770 1270 L700 1230 L580 1170 Q540 1150 540 1100 Z" stroke-width="2.2" fill="#fff" vector-effect="non-scaling-stroke" />
<path d="M560 880 C580 850 620 860 650 870 L790 960" stroke-width="2.0" fill="none" vector-effect="non-scaling-stroke" />
<path d="M540 1000 Q545 960 590 970 L740 1060 Q770 1080 760 1120 L750 1180 Q740 1200 700 1190 L580 1130 Q550 1110 550 1080 Z" stroke-width="2.2" fill="#fff" vector-effect="non-scaling-stroke" />
<path d="M560 1030 L740 1110 L735 1150 L560 1070 Z" stroke-width="1" fill="#000" vector-effect="non-scaling-stroke" />
<path d="M570 1090 L720 1160" stroke-width="6" fill="none" vector-effect="non-scaling-stroke" />
<path d="M650 900 C620 960 680 1000 740 990 C800 980 840 960 830 920" stroke-width="2.2" fill="none" vector-effect="non-scaling-stroke" />
<path d="M690 940 Q720 920 780 950 Q740 990 690 960 Z" stroke-width="2" fill="#000" vector-effect="non-scaling-stroke" />
<path d="M780 1040 L850 1080" stroke-width="10" fill="none" vector-effect="non-scaling-stroke" />
<path d="M940 990 L1240 860 Q1285 845 1282 900 L1270 1150 Q1268 1185 1235 1200 L990 1300 Q950 1310 945 1270 Z" stroke-width="2.4" fill="#fff" vector-effect="non-scaling-stroke" />
<path d="M1000 1040 Q1000 1020 1030 1010 L1230 920 Q1260 910 1260 940 L1258 1130 Q1255 1160 1230 1170 L1030 1260 Q1005 1270 1005 1240 Z" stroke-width="2.2" fill="none" vector-effect="non-scaling-stroke" />
<path d="M960 975 L960 1285" stroke-width="1.6" fill="none" vector-effect="non-scaling-stroke" />
<path d="M1235 850 L1300 850 L1360 900 L1390 960 L1380 1040 L1300 1090 L1270 1080 L1280 900 Z" stroke-width="1.5" fill="url(#tread)" vector-effect="non-scaling-stroke" />
<path d="M1300 850 L1380 870 Q1400 900 1380 940" stroke-width="2" fill="none" vector-effect="non-scaling-stroke" />
<path d="M760 1180 L770 1250 L850 1260 L900 1230 L900 1200" stroke-width="2.0" fill="none" vector-effect="non-scaling-stroke" />
<path d="M830 1200 L870 1240 L830 1250 Z" stroke-width="2" fill="#000" vector-effect="non-scaling-stroke" />
</g>
<g transform="translate(1260 880) scale(0.183150)">
<path d="M280 420 L280 990" stroke-width="2.2" fill="none" vector-effect="non-scaling-stroke" />
<path d="M335 480 L335 1180" stroke-width="1.8" fill="none" vector-effect="non-scaling-stroke" />
<path d="M390 720 L390 1180" stroke-width="2.2" fill="none" vector-effect="non-scaling-stroke" />
<path d="M285 400 L300 360 L340 340 L390 370 L390 460 L340 480 L300 470 L285 440 Z" stroke-width="2.2" fill="#fff" vector-effect="non-scaling-stroke" />
<path d="M300 360 L340 380 L390 370" stroke-width="1.6" fill="none" vector-effect="non-scaling-stroke" />
<path d="M340 380 L340 480" stroke-width="1.6" fill="none" vector-effect="non-scaling-stroke" />
<path d="M390 420 L430 430 L435 470 L390 480" stroke-width="2.0" fill="none" vector-effect="non-scaling-stroke" />
<path d="M270 500 L270 600 L330 580 L480 490 Q500 470 470 455 L400 460 L300 510 Z" stroke-width="2.2" fill="#fff" vector-effect="non-scaling-stroke" />
<path d="M260 550 L270 600" stroke-width="6" fill="none" vector-effect="non-scaling-stroke" />
<path d="M255 680 L265 720" stroke-width="8" fill="none" vector-effect="non-scaling-stroke" />
<path d="M250 580 L250 700 L300 740 L390 720" stroke-width="2.0" fill="none" vector-effect="non-scaling-stroke" stroke-dasharray="12 8"/>
<path d="M345 650 Q340 625 370 625 L480 680 L480 760 L455 740 L380 700 Q350 690 345 650 Z" stroke-width="2.0" fill="#fff" vector-effect="non-scaling-stroke" />
<path d="M275 990 L275 1240" stroke-width="2.0" fill="none" vector-effect="non-scaling-stroke" />
<path d="M345 160 L560 50 L660 100 L660 210 L440 310 L345 270 Z" stroke-width="2.4" fill="#fff" vector-effect="non-scaling-stroke" />
<path d="M370 170 L560 70 L640 110 L460 200 Z" stroke-width="2.0" fill="none" vector-effect="non-scaling-stroke" />
<path d="M460 200 L460 310" stroke-width="2.2" fill="none" vector-effect="non-scaling-stroke" />
<path d="M560 150 L560 260" stroke-width="1.8" fill="none" vector-effect="non-scaling-stroke" />
<path d="M370 180 L370 260" stroke-width="5" fill="none" vector-effect="non-scaling-stroke" />
<path d="M410 200 L410 280" stroke-width="5" fill="none" vector-effect="non-scaling-stroke" />
<path d="M510 100 Q540 80 600 110 Q580 140 520 130 Z" stroke-width="1.6" fill="none" vector-effect="non-scaling-stroke" />
<path d="M730 55 L740 480" stroke-width="2.0" fill="none" vector-effect="non-scaling-stroke" stroke-dasharray="40 10"/>
<path d="M600 400 L740 480" stroke-width="2.0" fill="none" vector-effect="non-scaling-stroke" />
<path d="M600 0 L730 55" stroke-width="2.0" fill="none" vector-effect="non-scaling-stroke" />
<path d="M175 175 L280 230" stroke-width="2.2" fill="none" vector-effect="non-scaling-stroke" />
<path d="M170 320 L280 380" stroke-width="2.2" fill="none" vector-effect="non-scaling-stroke" />
<path d="M490 360 Q500 320 550 320 Q610 330 610 370 L605 420 Q590 450 540 450 Q490 445 485 410 Z" stroke-width="2.4" fill="#fff" vector-effect="non-scaling-stroke" />
<path d="M495 370 Q520 395 570 390 Q605 385 610 370" stroke-width="1.8" fill="none" vector-effect="non-scaling-stroke" />
<circle cx="585" cy="395" r="14" fill="#000" stroke="none"/>
<path d="M480 485 L620 565" stroke-width="2.2" fill="none" vector-effect="non-scaling-stroke" />
<path d="M620 565 L770 650" stroke-width="5" fill="none" vector-effect="non-scaling-stroke" />
<ellipse cx="795" cy="665" rx="22" ry="16" transform="rotate(30 795 665)" fill="#fff" stroke="#000" stroke-width="3" vector-effect="non-scaling-stroke"/>
<path d="M520 730 L730 840" stroke-width="2.2" fill="none" vector-effect="non-scaling-stroke" />
<path d="M1120 790 C1090 680 1000 640 930 670 C780 730 660 900 670 1050 C680 1160 750 1200 830 1190 L890 1180" fill="#fff" stroke="#000" stroke-width="3" vector-effect="non-scaling-stroke"/>
<path d="M900 1060 C850 1030 840 960 870 900 C900 850 960 830 1000 850" fill="none" stroke="#000" stroke-width="2.4" vector-effect="non-scaling-stroke"/>
<ellipse cx="1115" cy="1060" rx="215" ry="290" transform="rotate(25 1115 1060)" fill="#fff" stroke="#000" stroke-width="3" vector-effect="non-scaling-stroke"/>
<ellipse cx="1075" cy="1055" rx="80" ry="130" transform="rotate(25 1075 1055)" fill="#fff" stroke="#000" stroke-width="2.6" vector-effect="non-scaling-stroke"/>
<path d="M1050 1010 L1110 990 L1160 1060 L1080 1110 L1030 1080 Z" stroke-width="2" fill="#000" vector-effect="non-scaling-stroke" />
<ellipse cx="1150" cy="1075" rx="28" ry="22" fill="#fff" stroke="#000" stroke-width="2.4" vector-effect="non-scaling-stroke"/>
<ellipse cx="1025" cy="1150" rx="60" ry="32" transform="rotate(20 1025 1150)" fill="#fff" stroke="#000" stroke-width="2.6" vector-effect="non-scaling-stroke"/>
<path d="M1200 830 Q1230 790 1280 810 L1300 870 Q1260 910 1210 890 Z" stroke-width="2" fill="#000" vector-effect="non-scaling-stroke" />
<ellipse cx="1375" cy="835" rx="45" ry="40" fill="#fff" stroke="#000" stroke-width="3" vector-effect="non-scaling-stroke"/>
<ellipse cx="1395" cy="830" rx="15" ry="20" fill="none" stroke="#000" stroke-width="2.4" vector-effect="non-scaling-stroke"/>
<path d="M1290 840 L1340 825 M1295 875 L1345 865" stroke-width="2.4" fill="none" vector-effect="non-scaling-stroke" />
</g>
<g transform="translate(400 1070) scale(0.142511)">
<path d="M380 110 L380 900" stroke-width="2.4" fill="none" vector-effect="non-scaling-stroke" />
<path d="M450 135 L450 940" stroke-width="1.8" fill="none" vector-effect="non-scaling-stroke" />
<path d="M520 165 L520 900" stroke-width="2.4" fill="none" vector-effect="non-scaling-stroke" />
<path d="M185 995 L340 915 L600 915 L600 1070 L330 1165 L185 1120 Z" stroke-width="2.4" fill="#fff" vector-effect="non-scaling-stroke" />
<path d="M230 990 L370 930 L455 990 L320 1050 Z" stroke-width="2.0" fill="none" vector-effect="non-scaling-stroke" />
<path d="M320 1050 L320 1165" stroke-width="2.4" fill="none" vector-effect="non-scaling-stroke" />
<path d="M455 990 L455 1100" stroke-width="2.0" fill="none" vector-effect="non-scaling-stroke" />
<path d="M460 985 L600 930" stroke-width="2.0" fill="none" vector-effect="non-scaling-stroke" />
<path d="M210 1010 L210 1120" stroke-width="5" fill="none" vector-effect="non-scaling-stroke" />
<path d="M290 1040 L290 1150" stroke-width="6" fill="none" vector-effect="non-scaling-stroke" />
<path d="M250 1165 L250 1263" stroke-width="2.4" fill="none" vector-effect="non-scaling-stroke" />
<path d="M320 1190 L320 1263" stroke-width="1.8" fill="none" vector-effect="non-scaling-stroke" />
<path d="M520 1130 L520 1263" stroke-width="8" fill="none" vector-effect="non-scaling-stroke" />
<path d="M1305 625 L1305 1400" stroke-width="2.4" fill="none" vector-effect="non-scaling-stroke" />
<path d="M1375 645 L1375 1400" stroke-width="1.8" fill="none" vector-effect="non-scaling-stroke" />
<path d="M1440 675 L1440 1400" stroke-width="2.4" fill="none" vector-effect="non-scaling-stroke" />
</g>
<g transform="translate(420 1230) scale(0.190024)">
<path d="M735 290 L860 230 L1025 235 L1025 340 L840 430 L740 390 Z" stroke-width="2.4" fill="#fff" vector-effect="non-scaling-stroke" />
<path d="M760 300 L860 250 L920 290 L820 340 Z" stroke-width="2.0" fill="none" vector-effect="non-scaling-stroke" />
<path d="M820 340 L820 430" stroke-width="2.4" fill="none" vector-effect="non-scaling-stroke" />
<path d="M920 290 L920 380" stroke-width="1.8" fill="none" vector-effect="non-scaling-stroke" />
<path d="M925 285 L1025 240" stroke-width="1.8" fill="none" vector-effect="non-scaling-stroke" />
<path d="M755 310 L755 390" stroke-width="5" fill="none" vector-effect="non-scaling-stroke" />
<path d="M790 330 L790 410" stroke-width="5" fill="none" vector-effect="non-scaling-stroke" />
<path d="M780 450 L785 520 L830 545 L960 490 L960 440 L830 490 Z" stroke-width="2.2" fill="#fff" vector-effect="non-scaling-stroke" />
<path d="M780 540 L780 1263" stroke-width="2.4" fill="none" vector-effect="non-scaling-stroke" />
<path d="M830 545 L830 1263" stroke-width="1.8" fill="none" vector-effect="non-scaling-stroke" />
<path d="M880 525 L880 1263" stroke-width="2.4" fill="none" vector-effect="non-scaling-stroke" />
<path d="M650 350 L740 330" stroke-width="2.2" fill="none" vector-effect="non-scaling-stroke" />
<path d="M960 470 C930 520 940 600 990 625 C1050 650 1130 620 1155 560 C1180 480 1130 380 1040 290" stroke-width="2.2" fill="none" vector-effect="non-scaling-stroke" />
<path d="M975 470 C950 520 960 590 1000 610 C1050 630 1120 600 1140 550 C1160 480 1110 390 1030 310" stroke-width="1.4" fill="none" vector-effect="non-scaling-stroke" />
<path d="M990 420 C1050 390 1130 380 1190 410 C1250 450 1280 560 1350 620 C1390 650 1420 660 1450 665" stroke-width="2.2" fill="none" vector-effect="non-scaling-stroke" />
<path d="M1000 440 C1060 410 1120 400 1180 430 C1230 460 1270 580 1340 640 C1380 670 1420 680 1445 685" stroke-width="1.4" fill="none" vector-effect="non-scaling-stroke" />
<path d="M1440 645 L1520 650 Q1540 680 1520 705 L1445 700 Z" stroke-width="2" fill="#000" vector-effect="non-scaling-stroke" />
<circle cx="965" cy="470" r="20" fill="#000" stroke="none"/>
<path d="M650 800 L780 870" stroke-width="2.0" fill="none" vector-effect="non-scaling-stroke" />
</g>
<g transform="translate(260 1080) scale(0.249408)">
<path d="M1040 1520 C1020 1580 1015 1680 1040 1770" stroke-width="2.2" fill="none" vector-effect="non-scaling-stroke" />
<path d="M1060 1515 C1040 1580 1035 1680 1055 1760" stroke-width="1.6" fill="none" vector-effect="non-scaling-stroke" />
<ellipse cx="1052" cy="1812" rx="28" ry="22" transform="rotate(30 1052 1812)" fill="#000"/>
<circle cx="300" cy="1585" r="22" fill="#000" stroke="none"/>
<path d="M300 1600 L300 1700" stroke-width="2.0" fill="none" vector-effect="non-scaling-stroke" />
</g>
<g transform="translate(1256 1021) scale(0.166279)">
<path d="M560 405 C700 400 840 500 860 650 C880 850 700 1120 480 1125 C300 1120 185 1000 185 860 C185 650 400 410 560 405 Z" fill="url(#tread)" stroke="#000" stroke-width="3" vector-effect="non-scaling-stroke"/>
<path d="M705 525 C800 520 860 600 855 700 C840 900 680 1110 510 1110 C420 1110 400 1010 410 940 C430 750 590 530 705 525 Z" fill="#fff" stroke="#000" stroke-width="3.5" vector-effect="non-scaling-stroke"/>
<path d="M690 545 C780 545 830 610 825 700 C810 880 670 1080 520 1085" fill="none" stroke="#000" stroke-width="1.8" vector-effect="non-scaling-stroke"/>
<ellipse cx="622" cy="815" rx="205" ry="135" transform="rotate(-54 622 815)" fill="none" stroke="#000" stroke-width="5" vector-effect="non-scaling-stroke"/>
<ellipse cx="600" cy="805" rx="160" ry="105" transform="rotate(-54 600 805)" fill="none" stroke="#000" stroke-width="2.2" vector-effect="non-scaling-stroke"/>
<circle cx="575" cy="715" r="20" fill="#000" stroke="none"/>
<circle cx="640" cy="755" r="22" fill="#000" stroke="none"/>
<circle cx="510" cy="825" r="22" fill="#000" stroke="none"/>
<circle cx="575" cy="860" r="20" fill="#000" stroke="none"/>
<circle cx="495" cy="895" r="16" fill="#000" stroke="none"/>
<path d="M560 790 L640 760 L620 810" stroke-width="5" fill="none" vector-effect="non-scaling-stroke" />
</g>
<g transform="translate(507 1373) scale(0.166279)">
<path d="M560 405 C700 400 840 500 860 650 C880 850 700 1120 480 1125 C300 1120 185 1000 185 860 C185 650 400 410 560 405 Z" fill="url(#tread)" stroke="#000" stroke-width="3" vector-effect="non-scaling-stroke"/>
<path d="M705 525 C800 520 860 600 855 700 C840 900 680 1110 510 1110 C420 1110 400 1010 410 940 C430 750 590 530 705 525 Z" fill="#fff" stroke="#000" stroke-width="3.5" vector-effect="non-scaling-stroke"/>
<path d="M690 545 C780 545 830 610 825 700 C810 880 670 1080 520 1085" fill="none" stroke="#000" stroke-width="1.8" vector-effect="non-scaling-stroke"/>
<ellipse cx="622" cy="815" rx="205" ry="135" transform="rotate(-54 622 815)" fill="none" stroke="#000" stroke-width="5" vector-effect="non-scaling-stroke"/>
<ellipse cx="600" cy="805" rx="160" ry="105" transform="rotate(-54 600 805)" fill="none" stroke="#000" stroke-width="2.2" vector-effect="non-scaling-stroke"/>
<circle cx="575" cy="715" r="20" fill="#000" stroke="none"/>
<circle cx="640" cy="755" r="22" fill="#000" stroke="none"/>
<circle cx="510" cy="825" r="22" fill="#000" stroke="none"/>
<circle cx="575" cy="860" r="20" fill="#000" stroke="none"/>
<circle cx="495" cy="895" r="16" fill="#000" stroke="none"/>
<path d="M560 790 L640 760 L620 810" stroke-width="5" fill="none" vector-effect="non-scaling-stroke" />
</g>
<g transform="translate(260 1080) scale(0.249408)">
<path d="M700 650 L700 710 L740 720 L870 670 L870 620 L740 660 Z" stroke-width="2.2" fill="#fff" vector-effect="non-scaling-stroke" />
<path d="M700 720 L700 790" stroke-width="2.2" fill="none" vector-effect="non-scaling-stroke" />
<path d="M745 725 L745 790" stroke-width="1.6" fill="none" vector-effect="non-scaling-stroke" />
<path d="M785 710 L785 790" stroke-width="2.2" fill="none" vector-effect="non-scaling-stroke" />
</g>
<g transform="translate(270 1450) scale(0.172206)">
<path d="M380 420 L380 490 L220 590 L210 640" stroke-width="2.0" fill="none" vector-effect="non-scaling-stroke" />
<path d="M115 680 L115 740 Q140 785 210 785 Q300 785 305 740 L305 680" stroke-width="2.4" fill="#fff" vector-effect="non-scaling-stroke" />
<ellipse cx="210" cy="668" rx="95" ry="45" fill="#fff" stroke="#000" stroke-width="2.6" vector-effect="non-scaling-stroke"/>
<path d="M120 705 Q150 740 210 740 Q280 740 302 705" stroke-width="2.0" fill="none" vector-effect="non-scaling-stroke" />
<ellipse cx="212" cy="670" rx="28" ry="16" fill="#000"/>
<path d="M210 790 L210 875" stroke-width="2.0" fill="none" vector-effect="non-scaling-stroke" />
<ellipse cx="215" cy="888" rx="32" ry="24" fill="#000"/>
<path d="M215 910 L218 1080" stroke-width="2.0" fill="none" vector-effect="non-scaling-stroke" />
<path d="M205 1070 L230 1070 L235 1130 Q240 1165 215 1165 Q190 1165 195 1130 Z" stroke-width="2" fill="#000" vector-effect="non-scaling-stroke" />
<path d="M1200 190 L1205 595" stroke-width="2.0" fill="none" vector-effect="non-scaling-stroke" />
<path d="M1200 715 L1205 1010" stroke-width="2.0" fill="none" vector-effect="non-scaling-stroke" />
<ellipse cx="1205" cy="642" rx="72" ry="40" fill="#fff" stroke="#000" stroke-width="3.5" vector-effect="non-scaling-stroke"/>
<path d="M825 1035 L800 1090 L825 1120 L850 1090 Z" stroke-width="2" fill="#000" vector-effect="non-scaling-stroke" />
<path d="M825 1120 L825 1175" stroke-width="5" fill="none" vector-effect="non-scaling-stroke" />
<path d="M1540 945 L1510 1010 L1540 1040 L1565 1010 Z" stroke-width="2" fill="#000" vector-effect="non-scaling-stroke" />
<path d="M1540 1040 L1540 1280" stroke-width="2.2" fill="none" vector-effect="non-scaling-stroke" />
<path d="M1535 1360 L1535 1420" stroke-width="2.0" fill="none" vector-effect="non-scaling-stroke" />
<circle cx="1535" cy="1450" r="34" fill="#000" stroke="none"/>
<circle cx="820" cy="1385" r="36" fill="#000" stroke="none"/>
<path d="M820 1290 L820 1350" stroke-width="2.0" fill="none" vector-effect="non-scaling-stroke" />
<path d="M1240 1060 L1300 945 L1390 945 L1365 1195 L1580 1260 Q1610 1290 1570 1320 L1540 1345 L830 1295 L780 1250 Q770 1215 800 1205 L980 1180 Q1000 1150 1030 1160 L1060 1170 L1080 1100" stroke-width="3.6" fill="#fff" vector-effect="non-scaling-stroke" />
<path d="M790 1225 L1540 1300 M830 1260 L1560 1320" stroke-width="1.6" fill="none" vector-effect="non-scaling-stroke" />
<path d="M850 1220 L920 1270 M1400 1230 L1450 1290" stroke-width="2.0" fill="none" vector-effect="non-scaling-stroke" />
<path d="M1340 960 L1340 1200 M1300 955 L1390 955" stroke-width="1.8" fill="none" vector-effect="non-scaling-stroke" />
<path d="M1290 960 L1340 960 L1340 1000 L1280 1000 Z" stroke-width="1.6" fill="#000" vector-effect="non-scaling-stroke" />
<ellipse cx="1200" cy="1100" rx="118" ry="72" fill="#fff" stroke="#000" stroke-width="4" vector-effect="non-scaling-stroke"/>
<ellipse cx="1210" cy="1108" rx="90" ry="42" fill="#fff" stroke="#000" stroke-width="2.6" vector-effect="non-scaling-stroke"/>
<path d="M1170 1170 L1170 1250 M1230 1170 L1230 1250" stroke-width="4" fill="none" vector-effect="non-scaling-stroke" />
<path d="M990 1170 Q1000 1150 1030 1160 L1050 1240 L990 1240 Z" stroke-width="2.2" fill="#fff" vector-effect="non-scaling-stroke" />
<ellipse cx="820" cy="1240" rx="35" ry="20" fill="#000"/>
<ellipse cx="1540" cy="1300" rx="35" ry="20" fill="#000"/>
<ellipse cx="1180" cy="1320" rx="80" ry="30" fill="none" stroke="#000" stroke-width="4" vector-effect="non-scaling-stroke"/>
<path d="M943 1392 L978 1363 L1283 1375 L1342 1392 L1388 1433 L1383 1515 L1342 1545 L1283 1562 L1224 1574 L1119 1597 L990 1539 L972 1492 L949 1445 Z" stroke-width="2" fill="#000" vector-effect="non-scaling-stroke" />
<path d="M1010 1378 L1271 1452" stroke-width="9" fill="none" vector-effect="non-scaling-stroke" style="stroke:#fff"/>
<path d="M1283 1439 L1353 1416" stroke-width="7" fill="none" vector-effect="non-scaling-stroke" style="stroke:#fff"/>
<path d="M1119 1480 L1177 1556" stroke-width="6" fill="none" vector-effect="non-scaling-stroke" style="stroke:#fff"/>
<path d="M1224 1515 L1283 1550" stroke-width="6" fill="none" vector-effect="non-scaling-stroke" style="stroke:#fff"/>
<ellipse cx="920" cy="1480" rx="40" ry="22" transform="rotate(-30 920 1480)" fill="#fff" stroke="#000" stroke-width="3" vector-effect="non-scaling-stroke"/>
<path d="M940 1465 L1000 1430" stroke-width="6" fill="none" vector-effect="non-scaling-stroke" />
<path d="M1340 1560 L1470 1630" stroke-width="2.4" fill="none" vector-effect="non-scaling-stroke" />
<circle cx="1350" cy="1560" r="26" fill="#000" stroke="none"/>
<ellipse cx="1505" cy="1650" rx="48" ry="42" transform="rotate(-30 1505 1650)" fill="#fff" stroke="#000" stroke-width="3.5" vector-effect="non-scaling-stroke"/>
<path d="M1490 1690 Q1480 1640 1520 1610" stroke-width="2.2" fill="none" vector-effect="non-scaling-stroke" />
</g>
<g transform="translate(800 1130) scale(0.118765)">
<path d="M385 190 L355 300 L340 330 L240 370 Q225 385 225 410 L225 860 L250 890 L480 1010 L540 1010 L640 950 L665 900 L660 440 L600 370 L580 210" stroke-width="2.6" fill="#fff" vector-effect="non-scaling-stroke" />
<ellipse cx="488" cy="108" rx="95" ry="45" fill="#fff" stroke="#000" stroke-width="3" vector-effect="non-scaling-stroke"/>
<path d="M393 110 L393 185 Q440 210 490 210 Q560 205 585 195 L585 110" stroke-width="2.6" fill="none" vector-effect="non-scaling-stroke" />
<path d="M395 165 Q480 200 585 180 L585 200 Q490 220 395 190 Z" stroke-width="1" fill="#000" vector-effect="non-scaling-stroke" />
<path d="M485 230 L485 420 L540 490 L550 1000" stroke-width="2.4" fill="none" vector-effect="non-scaling-stroke" />
<path d="M230 480 L545 620 L665 600" stroke-width="4.5" fill="none" vector-effect="non-scaling-stroke" />
<path d="M230 795 L515 920 L665 905" stroke-width="4.5" fill="none" vector-effect="non-scaling-stroke" />
<path d="M262 560 Q262 540 290 548 L500 640 Q512 650 512 670 L512 860 Q510 885 490 870 L270 770 Q262 765 262 750 Z" stroke-width="4" fill="none" vector-effect="non-scaling-stroke" />
</g>
<g transform="translate(760 1280) scale(0.178158)">
<ellipse cx="1210" cy="531" rx="498" ry="390" transform="rotate(-58.0 1210 531)" fill="none" stroke="#000" stroke-width="3" vector-effect="non-scaling-stroke"/>
<ellipse cx="1209" cy="527" rx="481" ry="359" transform="rotate(-57.3 1209 527)" fill="none" stroke="#000" stroke-width="2.2" vector-effect="non-scaling-stroke"/>
<ellipse cx="1208" cy="522" rx="464" ry="328" transform="rotate(-56.7 1208 522)" fill="none" stroke="#000" stroke-width="2.2" vector-effect="non-scaling-stroke"/>
<ellipse cx="1208" cy="518" rx="446" ry="298" transform="rotate(-56.0 1208 518)" fill="none" stroke="#000" stroke-width="2.2" vector-effect="non-scaling-stroke"/>
<ellipse cx="1207" cy="514" rx="429" ry="267" transform="rotate(-55.3 1207 514)" fill="none" stroke="#000" stroke-width="2.2" vector-effect="non-scaling-stroke"/>
<ellipse cx="1206" cy="509" rx="412" ry="236" transform="rotate(-54.7 1206 509)" fill="none" stroke="#000" stroke-width="2.2" vector-effect="non-scaling-stroke"/>
<ellipse cx="1205" cy="505" rx="395" ry="205" transform="rotate(-54.0 1205 505)" fill="none" stroke="#000" stroke-width="3" vector-effect="non-scaling-stroke"/>
<path d="M785 700 L790 940" stroke-width="8" fill="none" vector-effect="non-scaling-stroke" />
<path d="M760 960 Q760 925 800 925 Q850 930 855 960 L855 1040 Q850 1070 805 1070 Q765 1065 762 1040 Z" stroke-width="2" fill="#000" vector-effect="non-scaling-stroke" />
<path d="M795 980 L795 1050 M820 975 L820 1050" stroke-width="2" fill="none" vector-effect="non-scaling-stroke" stroke="#fff"/>
<path d="M1620 420 L1640 590" stroke-width="8" fill="none" vector-effect="non-scaling-stroke" />
<path d="M1570 610 Q1575 575 1610 575 Q1655 580 1660 610 L1660 690 Q1655 720 1615 720 Q1575 715 1572 690 Z" stroke-width="2" fill="#000" vector-effect="non-scaling-stroke" />
<path d="M1600 630 L1600 700 M1625 625 L1625 700" stroke-width="2" fill="none" vector-effect="non-scaling-stroke" stroke="#fff"/>
</g>
<g transform="translate(1310 1280) scale(0.154392)">
<path d="M280 140 L1180 640 Q1220 660 1300 665 Q1420 690 1500 780 Q1560 850 1540 910 Q1500 930 1470 950 Q1445 980 1450 1010 L1470 1290 Q1510 1310 1505 1350 Q1490 1380 1450 1375 L1200 1365 Q1120 1340 1090 1280 Q1075 1240 1080 1200 L1085 870 Q1090 820 1140 780 L1180 740 L260 245" stroke-width="3" fill="#fff" vector-effect="non-scaling-stroke" />
<ellipse cx="240" cy="152" rx="112" ry="80" transform="rotate(32 240 152)" fill="#fff" stroke="#000" stroke-width="3.2" vector-effect="non-scaling-stroke"/>
<ellipse cx="258" cy="113" rx="42" ry="18" transform="rotate(35 258 113)" fill="#000"/>
<ellipse cx="203" cy="197" rx="42" ry="22" transform="rotate(35 203 197)" fill="#000"/>
<path d="M185 125 L255 165" stroke-width="5" fill="none" vector-effect="non-scaling-stroke" />
<path d="M310 145 Q265 195 280 245" stroke-width="2.6" fill="none" vector-effect="non-scaling-stroke" />
<path d="M1180 735 Q1260 800 1330 840 Q1420 880 1520 870" stroke-width="3" fill="none" vector-effect="non-scaling-stroke" />
<path d="M1215 665 Q1350 690 1420 740 Q1480 800 1495 860" stroke-width="2.2" fill="none" vector-effect="non-scaling-stroke" />
<path d="M1090 850 Q1200 860 1340 910 L1355 1250 Q1340 1280 1290 1280 L1190 1280 Q1120 1270 1100 1220" stroke-width="3" fill="none" vector-effect="non-scaling-stroke" />
<path d="M1120 1190 L1120 990 Q1130 930 1180 925 Q1240 930 1250 980 L1200 1170 Q1170 1230 1130 1210" stroke-width="2.6" fill="none" vector-effect="non-scaling-stroke" />
<path d="M1230 890 L1310 960 L1220 1250 M1260 880 L1330 930 L1240 1260" stroke-width="2.2" fill="none" vector-effect="non-scaling-stroke" />
<path d="M1390 1330 Q1420 1310 1450 1330 L1455 1400 L1430 1420 L1435 1460 L1395 1460 L1400 1420 L1380 1400 Z" stroke-width="2" fill="#000" vector-effect="non-scaling-stroke" />
<circle cx="1500" cy="860" r="16" fill="#000" stroke="none"/>
<circle cx="1150" cy="820" r="14" fill="#000" stroke="none"/>
</g>
<g transform="translate(1100 1380) scale(0.213767)">
<circle cx="125" cy="225" r="16" fill="#000" stroke="none"/>
<path d="M245 270 L395 190 L395 300" stroke-width="2.4" fill="none" vector-effect="non-scaling-stroke" />
<path d="M395 470 L395 525 L250 605" stroke-width="2.4" fill="none" vector-effect="non-scaling-stroke" />
<path d="M245 270 L250 605" stroke-width="2.0" fill="none" vector-effect="non-scaling-stroke" stroke-dasharray="25 10"/>
<path d="M230 300 L230 390 Q240 400 250 390" stroke-width="2.0" fill="none" vector-effect="non-scaling-stroke" />
<path d="M480 430 L1230 835" stroke-width="2.6" fill="none" vector-effect="non-scaling-stroke" />
<path d="M480 472 L1220 878" stroke-width="2.6" fill="none" vector-effect="non-scaling-stroke" />
<path d="M300 315 L410 350 L470 375 Q520 400 510 430 L490 470 Q470 490 440 480 L300 390 Q270 360 300 315 Z" stroke-width="2" fill="#000" vector-effect="non-scaling-stroke" />
<path d="M420 380 Q450 375 470 395 L440 460 Q410 455 405 430 Z" stroke-width="1" fill="#fff" vector-effect="non-scaling-stroke" style="stroke:#fff"/>
<path d="M1230 830 Q1260 820 1320 860 Q1360 890 1350 920 Q1330 945 1280 925 L1230 890 Q1210 860 1230 830 Z" stroke-width="2" fill="#000" vector-effect="non-scaling-stroke" />
<path d="M1240 850 L1270 860 L1260 880 Z M1320 880 L1335 900 L1320 920 Z" stroke-width="1" fill="#fff" vector-effect="non-scaling-stroke" style="stroke:#fff"/>
<path d="M1350 920 L1525 1015" stroke-width="2.2" fill="none" vector-effect="non-scaling-stroke" />
<circle cx="1430" cy="962" r="20" fill="#000" stroke="none"/>
<path d="M1505 995 L1545 995 L1550 1035 L1510 1040 Z" stroke-width="2" fill="#000" vector-effect="non-scaling-stroke" />
</g>
<g transform="translate(740 1600) scale(0.130634)">
<path d="M130 50 L680 215 L680 960 L530 915" stroke-width="3.2" fill="none" vector-effect="non-scaling-stroke" />
<path d="M110 60 L525 285 L525 1050 L110 810 Z" stroke-width="3.2" fill="#fff" vector-effect="non-scaling-stroke" />
<path d="M210 245 L435 375 M235 355 L375 435 M210 800 L430 925" stroke-width="3" fill="none" vector-effect="non-scaling-stroke" />
</g>
<g transform="translate(1070 1545) scale(0.083126)">
<path d="M110 490 L220 390 L390 350 L560 210 L650 190 L720 220 L850 340 L1030 390 L1140 440 L1260 550 L1560 715 L1280 880 L1060 940 L990 1015 L860 960 L700 830 L420 720 L360 700 L210 560 Z" stroke-width="3" fill="none" vector-effect="non-scaling-stroke" />
<path d="M210 550 L320 470 L500 400 L710 240" stroke-width="3" fill="none" vector-effect="non-scaling-stroke" />
<path d="M250 560 L420 680 L680 760 L850 940" stroke-width="2.6" fill="none" vector-effect="non-scaling-stroke" />
<circle cx="710" cy="405" r="55" fill="none" stroke="#000" stroke-width="4" vector-effect="non-scaling-stroke"/>
<circle cx="880" cy="470" r="48" fill="none" stroke="#000" stroke-width="4" vector-effect="non-scaling-stroke"/>
<circle cx="1050" cy="565" r="52" fill="none" stroke="#000" stroke-width="4" vector-effect="non-scaling-stroke"/>
<circle cx="610" cy="605" r="75" fill="none" stroke="#000" stroke-width="6" vector-effect="non-scaling-stroke"/>
<circle cx="895" cy="755" r="52" fill="none" stroke="#000" stroke-width="4" vector-effect="non-scaling-stroke"/>
<circle cx="1215" cy="730" r="90" fill="#000"/>
</g>
<g transform="translate(860 1500) scale(0.166279)">
<path d="M175 360 Q200 320 250 330 L350 400 Q370 430 355 460 Q330 475 300 460 L200 420 Q160 400 175 360 Z" stroke-width="2" fill="#000" vector-effect="non-scaling-stroke" />
<ellipse cx="212" cy="378" rx="16" ry="20" fill="#fff"/>
<ellipse cx="310" cy="425" rx="12" ry="14" fill="#fff"/>
<path d="M255 355 Q230 390 240 430" stroke-width="3" fill="none" vector-effect="non-scaling-stroke" style="stroke:#fff"/>
</g>
<g transform="translate(1180 1640) scale(0.142511)">
<path d="M715 335 L1030 160 L1550 450 L1235 620 Z" stroke-width="3.2" fill="none" vector-effect="non-scaling-stroke" />
<circle cx="963" cy="355" r="48" fill="none" stroke="#000" stroke-width="3.5" vector-effect="non-scaling-stroke"/>
<path d="M1010 380 L1280 515" stroke-width="3.5" fill="none" vector-effect="non-scaling-stroke" />
<path d="M1095 330 Q1100 280 1140 285 L1210 300 L1320 375" stroke-width="3.5" fill="none" vector-effect="non-scaling-stroke" />
<path d="M1170 340 L1130 460 M1225 365 L1185 470" stroke-width="2.6" fill="none" vector-effect="non-scaling-stroke" />
<ellipse cx="1145" cy="475" rx="35" ry="20" fill="none" stroke="#000" stroke-width="3" vector-effect="non-scaling-stroke"/>
</g>
<g transform="translate(170 1320) scale(0.095012)">
<path d="M540 570 L700 660" stroke-width="3" fill="none" vector-effect="non-scaling-stroke" />
<path d="M960 800 L1340 1010" stroke-width="3" fill="none" vector-effect="non-scaling-stroke" />
<path d="M290 575 L300 450 Q350 380 420 365 Q470 365 550 430 L555 540 Q520 610 460 635 L400 635 Z" stroke-width="4" fill="#fff" vector-effect="non-scaling-stroke" />
<ellipse cx="462" cy="528" rx="72" ry="95" transform="rotate(25 462 528)" fill="#fff" stroke="#000" stroke-width="4" vector-effect="non-scaling-stroke"/>
<path d="M470 540 L530 540" stroke-width="4" fill="none" vector-effect="non-scaling-stroke" />
<path d="M690 720 Q700 640 790 605 Q880 605 960 700 L960 790 Q920 870 840 880 Q720 860 680 760 Z" stroke-width="2" fill="#000" vector-effect="non-scaling-stroke" />
<path d="M850 680 L880 680 M790 720 L820 750 M850 790 L880 730 M780 800 L800 820" stroke-width="4" fill="none" vector-effect="non-scaling-stroke" style="stroke:#fff"/>
</g>
<g transform="translate(0 0) scale(1.000000)">
<ellipse cx="719" cy="763" rx="7" ry="6.5" fill="#000"/>
<ellipse cx="717" cy="761" rx="2.5" ry="2" fill="#fff"/>
<path d="M697 773 L710 767" stroke-width="2.2" fill="none" vector-effect="non-scaling-stroke" />
<path d="M1195 1163 L1365 1257" stroke-width="2.2" fill="none" vector-effect="non-scaling-stroke" />
<path d="M1195 1163 L1281 1117" stroke-width="2.2" fill="none" vector-effect="non-scaling-stroke" />
<ellipse cx="1294.5" cy="1218" rx="10.5" ry="6.5" transform="rotate(-15 1294.5 1218)" fill="#fff" stroke="#000" stroke-width="3" vector-effect="non-scaling-stroke"/>
<ellipse cx="1296" cy="1218" rx="5" ry="3" transform="rotate(-15 1296 1218)" fill="none" stroke="#000" stroke-width="2" vector-effect="non-scaling-stroke"/>
<path d="M1284 1226 Q1288 1232 1298 1229" stroke-width="2.6" fill="none" vector-effect="non-scaling-stroke" />
<path d="M1284 1233 Q1290 1239 1298 1236" stroke-width="2.4" fill="none" vector-effect="non-scaling-stroke" />
<circle cx="1365" cy="1257" r="4.2" fill="#000" stroke="none"/>
<circle cx="169.3" cy="1642.4" r="1.2" fill="#000" stroke="none"/>
</g>
<g transform="translate(0 0) scale(1.000000)">
<circle cx="166" cy="816" r="1.2" fill="#000" stroke="none"/>
<circle cx="142.5" cy="829" r="0.9" fill="#000" stroke="none"/>
<circle cx="425.8" cy="1131" r="1.0" fill="#000" stroke="none"/>
<circle cx="1073" cy="490" r="1.0" fill="#000" stroke="none"/>
<circle cx="1392" cy="1246" r="1.0" fill="#000" stroke="none"/>
<circle cx="1398" cy="1249" r="0.8" fill="#000" stroke="none"/>
<circle cx="1518" cy="1367" r="0.9" fill="#000" stroke="none"/>
<circle cx="1543" cy="1382" r="0.9" fill="#000" stroke="none"/>
<circle cx="1455" cy="1413" r="0.9" fill="#000" stroke="none"/>
<circle cx="1401" cy="1411" r="0.9" fill="#000" stroke="none"/>
<circle cx="1408" cy="1412" r="0.9" fill="#000" stroke="none"/>
<circle cx="1455" cy="1413" r="0.9" fill="#000" stroke="none"/>
</g>
<text transform="translate(797 2004) scale(0.95 1)" x="0" y="0" font-size="69" font-weight="bold" text-anchor="middle" style="stroke:none">4/00</text>
</svg></body></html>
